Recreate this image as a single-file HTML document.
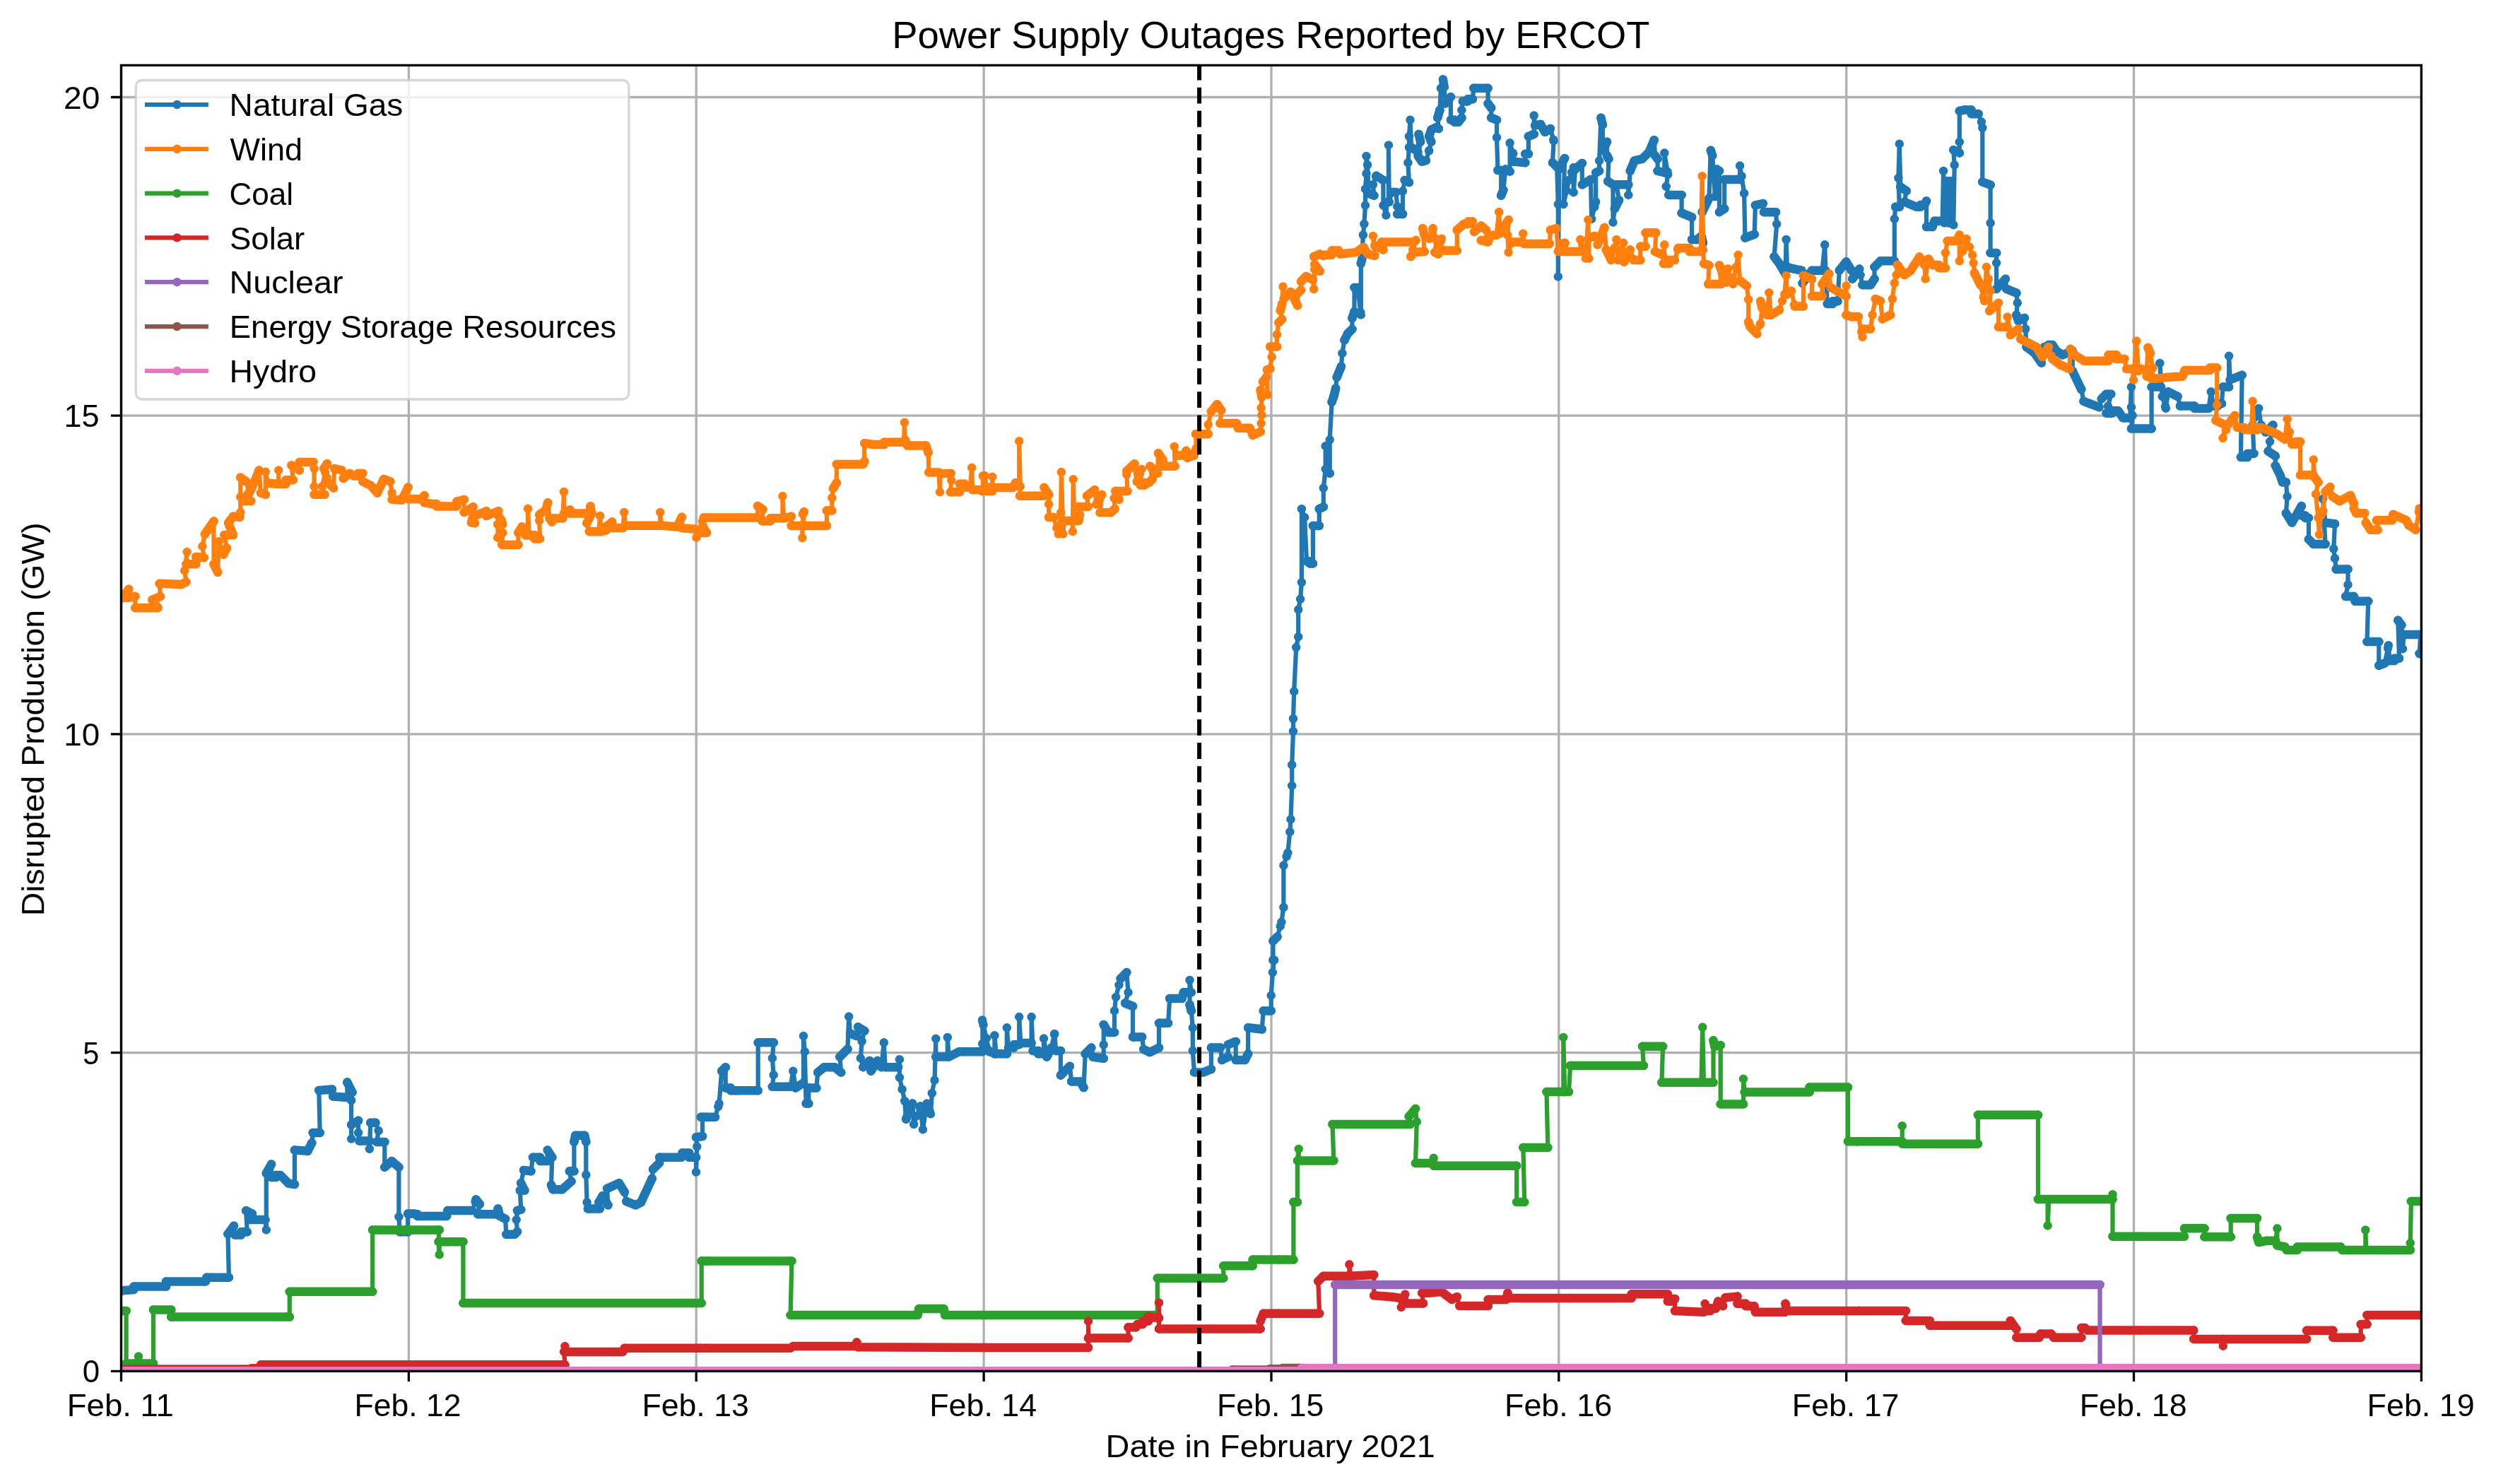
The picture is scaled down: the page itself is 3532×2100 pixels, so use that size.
<!DOCTYPE html>
<html><head><meta charset="utf-8"><style>html,body{margin:0;padding:0;background:#fff;}svg{display:block;}text{-webkit-font-smoothing:antialiased;}</style></head><body>
<svg width="3532" height="2100" viewBox="0 0 3532 2100">
<rect width="3532" height="2100" fill="#ffffff"/>
<defs><clipPath id="ax"><rect x="171.5" y="92.4" width="3254.9" height="1847.8999999999999"/></clipPath></defs>
<path d="M171.5 92.4V1940.3M578.4 92.4V1940.3M985.2 92.4V1940.3M1392.1 92.4V1940.3M1799 92.4V1940.3M2205.8 92.4V1940.3M2612.7 92.4V1940.3M3019.5 92.4V1940.3M3426.4 92.4V1940.3M171.5 1940.3H3426.4M171.5 1489.6H3426.4M171.5 1038.9H3426.4M171.5 588.2H3426.4M171.5 137.5H3426.4" stroke="#b0b0b0" stroke-width="3.33" fill="none"/>
<g clip-path="url(#ax)">
<path d="M173.6 1826.3 L189.3 1824.9 L189.3 1820.6 L235.1 1820.6 L235.1 1813.4 L291 1813.4 L292.4 1807.7 L323.9 1807.7 L322.5 1746.2 L331 1734.7 L332.5 1747.6 L341.1 1747.6 L341.1 1743.3 L349.7 1743.3 L348.2 1713.2 L356.8 1717.5 L354 1726.1 L375.4 1726.1 L376.8 1740.4 L376.8 1660.3 L384 1647.4 L384 1666 L390.4 1666 L390.4 1663.1 L396.9 1663.1 L408.3 1674.6 L416.9 1676 L416.9 1627.4 L435.5 1628.8 L441.3 1617.3 L442.7 1603 L452.7 1603 L451.3 1542.9 L469.9 1541.5 L471.3 1551.5 L491.4 1552.9 L491.4 1531.5 L498.5 1545.8 L497.1 1557.2 L497.1 1611.6 L497.1 1591.6 L507.1 1585.8 L507.1 1603 L508.5 1614.5 L522.9 1614.5 L522.9 1625.9 L524.3 1588.7 L531.4 1588.7 L535.7 1600.2 L532.9 1615.9 L544.3 1615.9 L544.3 1651.7 L554.4 1643.1 L564.4 1651.7 L564.4 1721.8 L565.8 1743.3 L577.2 1743.3 L577.2 1717.5 L585 1717.5 L585 1717.5 L590.6 1718.3 L590.6 1720.9 L632.1 1720.9 L633.4 1713.1 L668.4 1713.1 L673.6 1697.5 L678.8 1704 L676.2 1718.3 L702.1 1718.3 L704.7 1710.5 L707.3 1720.9 L715.1 1724.8 L716.4 1746.8 L728.1 1746.8 L732 1742.9 L730.7 1726.1 L732 1713.1 L737.2 1711.8 L735.9 1684.5 L742.4 1684.5 L737.2 1674.2 L741.1 1656 L751.4 1657.3 L754 1637.8 L764.4 1637.8 L764.4 1643 L774.8 1643 L774.8 1627.5 L781.3 1637.8 L780 1676.8 L782.6 1683.2 L795.6 1683.2 L808.5 1671.6 L805.9 1657.3 L812.4 1657.3 L812.4 1615.8 L814.2 1606.7 L827.2 1606.7 L829.3 1615.8 L829.3 1662.5 L830.6 1701.4 L831.9 1710.5 L848.7 1710.5 L847.4 1701.4 L852.6 1692.3 L860.4 1705.3 L859.1 1682 L876 1674.2 L883.8 1687.1 L886.4 1700.1 L899.3 1705.3 L907.1 1701.4 L922.7 1667.7 L924 1654.7 L933.1 1645.6 L933.1 1637.8 L964.2 1637.8 L965.5 1631.4 L975.2 1631.4 L975.2 1637.8 L985 1637.8 L985 1658.6 L986.3 1622.3 L985 1609.3 L994 1608 L994 1580.8 L1000 1580.8 L991.8 1580.8 L1012 1580.8 L1017.6 1561.6 L1021.2 1515.7 L1026.7 1510.2 L1026.7 1539.6 L1034.1 1539.6 L1034.1 1543.3 L1041.4 1543.3 L1072.7 1543.3 L1072.7 1475.3 L1094.7 1475.3 L1092.9 1497.4 L1094.7 1521.2 L1092.9 1537.8 L1118.6 1537.8 L1122.3 1515.7 L1125.9 1539.6 L1137 1532.3 L1137 1466.1 L1138.8 1488.2 L1140.6 1561.6 L1144.3 1561.6 L1144.3 1539.6 L1155.3 1539.6 L1157.2 1517.6 L1166.3 1510.2 L1181 1510.2 L1190.2 1517.6 L1188.4 1495.5 L1199.4 1484.5 L1201.2 1438.6 L1203.1 1462.5 L1212.3 1466.1 L1214.1 1453.3 L1223.3 1458.8 L1219.6 1473.5 L1217.8 1497.4 L1221.4 1510.2 L1230.6 1501 L1232.5 1515.7 L1241.7 1501 L1247.2 1510.2 L1250.8 1475.3 L1252.7 1510.2 L1271 1510.2 L1272.9 1499.2 L1272.9 1524.9 L1276.6 1541.4 L1280.2 1558 L1282.1 1583.7 L1291.2 1561.6 L1293.1 1591 L1302.3 1565.3 L1305.9 1598.4 L1311.5 1561.6 L1317 1576.3 L1318.8 1547 L1322.5 1528.6 L1324.3 1469.8 L1324.3 1495.5 L1340.8 1495.5 L1340.8 1468 L1342.7 1495.5 L1357.4 1488.2 L1390.4 1488.2 L1390.4 1445.9 L1390.4 1477.1 L1400 1488.2 L1390 1443.5 L1392.2 1482.6 L1407.4 1491.3 L1407.4 1465.2 L1409.6 1491.3 L1424.8 1491.3 L1424.8 1454.3 L1427 1482.6 L1434.6 1482.6 L1434.6 1478.3 L1442.2 1478.3 L1442.2 1439.1 L1444.3 1476.1 L1459.6 1476.1 L1459.6 1439.1 L1461.7 1487 L1469.3 1487 L1469.3 1491.3 L1477 1491.3 L1477 1469.6 L1481.3 1495.7 L1487.8 1482.6 L1492.2 1463 L1494.3 1487 L1500.9 1487 L1500.9 1521.7 L1513.9 1508.7 L1516.1 1530.4 L1529.1 1530.4 L1533.5 1539.1 L1535.7 1491.3 L1544.3 1482.6 L1546.5 1495.7 L1561.7 1497.8 L1561.7 1478.3 L1561.7 1450 L1568.3 1460.9 L1577 1460.9 L1577 1430.4 L1579.1 1410.9 L1585.7 1384.8 L1594.3 1376.1 L1596.5 1404.3 L1592.2 1419.6 L1603 1423.9 L1603 1467.4 L1616.1 1467.4 L1618.3 1484.8 L1627 1489.1 L1640 1482.6 L1640 1447.8 L1653 1447.8 L1655.2 1413 L1672.6 1413 L1674.8 1404.3 L1685.7 1404.3 L1683.5 1387 L1683.5 1421.7 L1685.7 1430.4 L1687.8 1454.3 L1687.8 1487 L1690 1517.4 L1703 1517.4 L1713.9 1513 L1713.9 1482.6 L1727 1482.6 L1729.1 1500 L1737.8 1495.7 L1737.8 1478.3 L1748.7 1473.9 L1748.7 1500 L1761.7 1500 L1766.1 1491.3 L1766.1 1454.3 L1785.7 1456.5 L1787.8 1430.4 L1798.7 1430.4 L1798.7 1408.7 L1800.9 1376.1 L1803 1358.7 L1801.5 1358.7 L1801.5 1331.5 L1807.5 1325.6 L1813.4 1304.8 L1816.4 1284 L1816.4 1224.7 L1822.3 1206.9 L1825.3 1177.2 L1826.5 1159.4 L1828.2 1111.9 L1828.2 1082.3 L1830 1034.8 L1830 1017 L1831.2 978.4 L1834.2 916.1 L1837.2 901.2 L1837.2 862.7 L1840.1 847.8 L1841.9 824.1 L1841.9 720.2 L1846.1 732.1 L1849 794.4 L1853.5 794.4 L1853.5 797.4 L1857.9 797.4 L1857.9 744 L1866.8 744 L1866.8 720.2 L1872.8 717.3 L1872.8 690.6 L1875.7 663.9 L1875.7 631.2 L1878.7 666.8 L1881.7 669.8 L1881.7 622.3 L1884.6 568.9 L1887.6 560 L1887.7 560 L1890.1 549.5 L1891.7 534 L1897.9 518.5 L1899.4 499.9 L1902.5 481.3 L1907.2 472 L1913.4 465.8 L1913.4 450.3 L1916.5 441 L1916.5 406.9 L1921.1 406.9 L1925.8 445.6 L1925.8 372.8 L1927.3 366.6 L1928.9 332.5 L1930.4 317 L1932 290.6 L1932 267.4 L1933.5 245.7 L1933.5 220.9 L1935.1 233.3 L1936.6 273.6 L1944.4 276.7 L1942.8 261.2 L1947.5 248.8 L1957.4 255 L1957.4 290.6 L1961.4 304.6 L1962.4 286 L1964.9 286 L1964.9 205.4 L1965.8 286 L1969.2 272 L1975.4 272 L1977.3 292.2 L1977.3 303 L1985 303 L1985 270.5 L1987.8 255 L1994 258.1 L1992.4 230.2 L1994 208.5 L1994 193 L1995.5 169.7 L1997.1 208.5 L2006.4 214.7 L2007.6 189.9 L2010.1 200.7 L2006.7 220.9 L2012 228.6 L2017.9 227.1 L2022.2 213.1 L2025.3 200.7 L2022.2 193 L2025.3 183.7 L2031.5 180.6 L2035.8 182.1 L2034.3 166.6 L2037.4 155.8 L2038.9 124.8 L2042 112.4 L2043.6 123.2 L2045.1 146.5 L2052.9 137.2 L2052.9 169.7 L2058.3 169.7 L2058.3 172.8 L2063.7 172.8 L2068.4 166.6 L2068.4 155.8 L2069.9 143.4 L2076.9 143.4 L2076.9 140.3 L2083.9 140.3 L2085.4 124.8 L2105.6 124.8 L2105.6 146.5 L2110.2 152.7 L2110.2 166.6 L2118 169.7 L2118 194.5 L2119.5 241 L2124.2 241 L2124.2 276.7 L2127.3 268.9 L2130.4 239.5 L2136.6 242.6 L2136.6 202.3 L2141.2 217.8 L2141.2 228.6 L2158.3 230.2 L2158.3 217.8 L2162.9 217.8 L2162.9 193 L2170.7 189.9 L2170.7 163.5 L2172.2 177.5 L2180 175.9 L2186.2 186.8 L2193.9 182.1 L2198.6 199.2 L2197 230.2 L2203.2 236.4 L2204.8 289.1 L2204.8 391.4 L2206.3 239.5 L2214.1 224 L2212.5 289.1 L2220 255 L2219.9 255 L2226.7 237.1 L2226.7 272.2 L2229.1 239.5 L2238.8 231 L2238.8 261.3 L2251 254 L2252.2 309.9 L2258.2 285.6 L2258.2 244.3 L2263.1 241.9 L2263.1 227.4 L2265.5 166.7 L2267.9 176.4 L2267.9 212.8 L2274 200.7 L2274 220.1 L2276.4 224.9 L2275.2 256.5 L2282.5 261.3 L2282.5 314.7 L2284.9 295.3 L2291 283.2 L2287.4 261.3 L2304.3 261.3 L2304.3 275.9 L2306.8 241.9 L2312.8 227.4 L2323.8 224.9 L2333.5 215.2 L2340.7 198.2 L2342 220.1 L2345.6 224.9 L2345.6 241.9 L2355.3 244.3 L2355.3 216.4 L2360.2 246.8 L2357.7 263.8 L2361.4 275.9 L2379.6 275.9 L2379.6 301.4 L2394.1 307.4 L2394.1 339 L2401.4 339 L2407.5 334.1 L2409.9 343.8 L2408.7 300.2 L2418.4 280.7 L2420.8 212.8 L2423.2 220.1 L2426.9 278.3 L2429.3 239.5 L2433 241.9 L2433 300.2 L2440.2 295.3 L2440.2 254 L2462.1 254 L2462.1 234.6 L2464.5 249.2 L2468.1 273.5 L2469.4 336.6 L2482.7 331.7 L2483.9 290.4 L2494.8 288 L2496 300.2 L2513 300.2 L2514.2 317.1 L2510.6 363.2 L2517.9 373 L2526.4 387.5 L2527.6 339 L2528.8 377.8 L2537.3 380.2 L2549.4 382.7 L2550.6 400.9 L2564 382.7 L2578.5 382.7 L2582.2 346.3 L2583.4 382.7 L2585.8 430 L2593.1 430 L2593.1 426.3 L2600.4 426.3 L2602.8 382.7 L2612.5 370.5 L2620 382.7 L2619.9 382.7 L2621.3 394.7 L2631.2 380.6 L2632.6 389.1 L2635.5 403.2 L2646.8 403.2 L2652.5 394.7 L2652.5 377.8 L2660.9 369.3 L2680.8 369.3 L2680.8 309.8 L2682.2 292.8 L2687.8 292.8 L2686.4 251.8 L2687.8 203.7 L2689.3 264.5 L2697.7 270.2 L2694.9 285.8 L2711.9 292.8 L2717.6 292.8 L2717.6 290 L2723.2 290 L2726 284.4 L2726 321.1 L2734.5 321.1 L2737.4 312.7 L2748.7 312.7 L2750.1 241.9 L2751.5 315.5 L2754.4 256 L2757.2 315.5 L2760 256 L2764.3 318.3 L2765.7 233.4 L2764.3 212.2 L2772.8 216.4 L2772.8 200.9 L2772.8 157 L2779.8 155.6 L2789.7 155.6 L2789.7 161.2 L2799.6 161.2 L2803.9 172.6 L2805.3 181 L2805.3 257.5 L2816.6 261.7 L2816.6 315.5 L2816.6 357.9 L2825.1 357.9 L2825.1 372.1 L2825.1 408.9 L2837.9 394.7 L2839.3 408.9 L2853.4 414.6 L2854.8 428.7 L2853.4 445.7 L2856.2 454.2 L2864.7 449.9 L2866.2 465.5 L2867.6 491 L2878.9 499.5 L2888.8 513.6 L2893 491 L2898.7 491 L2898.7 488.1 L2904.4 488.1 L2910 496.6 L2918.5 502.3 L2932.7 496.6 L2932.7 524.9 L2945.2 551 L2948.5 567.8 L2957 571.2 L2970.4 576.2 L2973.8 564.4 L2980.5 557.7 L2987.3 557.7 L2980.5 584.7 L2989 584.7 L2989 581.3 L2997.4 581.3 L3004.1 591.4 L3014.2 591.4 L3015.9 547.6 L3015.9 576.2 L3017.6 588 L3015.9 606.6 L3044.6 606.6 L3044.6 547.6 L3058 547.6 L3056.3 513.9 L3059.7 561.1 L3064.8 577.9 L3068.1 554.3 L3081.6 561.1 L3085 574.6 L3105.2 574.6 L3105.2 577.9 L3125.4 577.9 L3128.8 554.3 L3132.2 574.6 L3138.1 574.6 L3138.1 571.2 L3143.9 571.2 L3145.6 547.6 L3154.1 547.6 L3154.1 503.8 L3155.7 537.5 L3172.6 530.8 L3170.9 647 L3180.2 647 L3180.2 641.9 L3189.4 641.9 L3187.7 601.5 L3196.2 577.9 L3199.5 601.5 L3206.3 611.6 L3216.4 601.5 L3209.6 638.6 L3219.8 645.3 L3219.8 658.8 L3226.5 672.3 L3229.9 682.4 L3234.9 682.4 L3236.6 702.6 L3234.9 726.2 L3243.3 739.6 L3256.8 716.1 L3256.8 729.5 L3261.9 729.5 L3261.9 732.9 L3266.9 732.9 L3266.9 763.2 L3273.7 770 L3290.5 770 L3287.1 706 L3290.5 739.6 L3304 741.3 L3302.3 776.7 L3304 790.2 L3305.7 805.4 L3322.5 805.4 L3322.5 827.3 L3319.2 844.1 L3330.9 844.1 L3332.6 850.8 L3351.2 850.8 L3349.5 908.1 L3366.3 908.1 L3366.3 941.8 L3374.7 938.4 L3379.8 913.2 L3381.5 935.1 L3388.2 935.1 L3388.2 931.7 L3395 931.7 L3393.3 877.8 L3398.3 884.5 L3400 918.2 L3401.7 898 L3425.3 898 L3423.6 925 L3430 925" fill="none" stroke="#1f77b4" stroke-width="6.25" stroke-linejoin="round"/>
<path d="M173.6 1826.3L189.3 1824.9M189.3 1820.6L235.1 1820.6M235.1 1813.4L291 1813.4M292.4 1807.7L323.9 1807.7M322.5 1746.2L331 1734.7M332.5 1747.6L341.1 1747.6M341.1 1743.3L349.7 1743.3M348.2 1713.2L356.8 1717.5M356.8 1717.5L354 1726.1M354 1726.1L375.4 1726.1M376.8 1660.3L384 1647.4M384 1666L390.4 1666M390.4 1663.1L396.9 1663.1M396.9 1663.1L408.3 1674.6M408.3 1674.6L416.9 1676M416.9 1627.4L435.5 1628.8M435.5 1628.8L441.3 1617.3M442.7 1603L452.7 1603M451.3 1542.9L469.9 1541.5M471.3 1551.5L491.4 1552.9M491.4 1531.5L498.5 1545.8M497.1 1591.6L507.1 1585.8M508.5 1614.5L522.9 1614.5M524.3 1588.7L531.4 1588.7M532.9 1615.9L544.3 1615.9M544.3 1651.7L554.4 1643.1M554.4 1643.1L564.4 1651.7M565.8 1743.3L577.2 1743.3M577.2 1717.5L585 1717.5M585 1717.5L590.6 1718.3M590.6 1720.9L632.1 1720.9M633.4 1713.1L668.4 1713.1M673.6 1697.5L678.8 1704M676.2 1718.3L702.1 1718.3M702.1 1718.3L704.7 1710.5M704.7 1710.5L707.3 1720.9M707.3 1720.9L715.1 1724.8M716.4 1746.8L728.1 1746.8M728.1 1746.8L732 1742.9M732 1713.1L737.2 1711.8M735.9 1684.5L742.4 1684.5M742.4 1684.5L737.2 1674.2M741.1 1656L751.4 1657.3M754 1637.8L764.4 1637.8M764.4 1643L774.8 1643M774.8 1627.5L781.3 1637.8M780 1676.8L782.6 1683.2M782.6 1683.2L795.6 1683.2M795.6 1683.2L808.5 1671.6M805.9 1657.3L812.4 1657.3M812.4 1615.8L814.2 1606.7M814.2 1606.7L827.2 1606.7M827.2 1606.7L829.3 1615.8M831.9 1710.5L848.7 1710.5M847.4 1701.4L852.6 1692.3M852.6 1692.3L860.4 1705.3M859.1 1682L876 1674.2M876 1674.2L883.8 1687.1M886.4 1700.1L899.3 1705.3M899.3 1705.3L907.1 1701.4M907.1 1701.4L922.7 1667.7M924 1654.7L933.1 1645.6M933.1 1637.8L964.2 1637.8M965.5 1631.4L975.2 1631.4M975.2 1637.8L985 1637.8M985 1609.3L994 1608M994 1580.8L1000 1580.8M1000 1580.8L991.8 1580.8M991.8 1580.8L1012 1580.8M1021.2 1515.7L1026.7 1510.2M1026.7 1539.6L1034.1 1539.6M1034.1 1543.3L1041.4 1543.3M1041.4 1543.3L1072.7 1543.3M1072.7 1475.3L1094.7 1475.3M1092.9 1537.8L1118.6 1537.8M1125.9 1539.6L1137 1532.3M1140.6 1561.6L1144.3 1561.6M1144.3 1539.6L1155.3 1539.6M1157.2 1517.6L1166.3 1510.2M1166.3 1510.2L1181 1510.2M1181 1510.2L1190.2 1517.6M1188.4 1495.5L1199.4 1484.5M1203.1 1462.5L1212.3 1466.1M1214.1 1453.3L1223.3 1458.8M1221.4 1510.2L1230.6 1501M1232.5 1515.7L1241.7 1501M1241.7 1501L1247.2 1510.2M1252.7 1510.2L1271 1510.2M1282.1 1583.7L1291.2 1561.6M1324.3 1495.5L1340.8 1495.5M1342.7 1495.5L1357.4 1488.2M1357.4 1488.2L1390.4 1488.2M1390.4 1477.1L1400 1488.2M1392.2 1482.6L1407.4 1491.3M1409.6 1491.3L1424.8 1491.3M1427 1482.6L1434.6 1482.6M1434.6 1478.3L1442.2 1478.3M1444.3 1476.1L1459.6 1476.1M1461.7 1487L1469.3 1487M1469.3 1491.3L1477 1491.3M1481.3 1495.7L1487.8 1482.6M1494.3 1487L1500.9 1487M1500.9 1521.7L1513.9 1508.7M1516.1 1530.4L1529.1 1530.4M1529.1 1530.4L1533.5 1539.1M1535.7 1491.3L1544.3 1482.6M1546.5 1495.7L1561.7 1497.8M1561.7 1450L1568.3 1460.9M1568.3 1460.9L1577 1460.9M1585.7 1384.8L1594.3 1376.1M1592.2 1419.6L1603 1423.9M1603 1467.4L1616.1 1467.4M1618.3 1484.8L1627 1489.1M1627 1489.1L1640 1482.6M1640 1447.8L1653 1447.8M1655.2 1413L1672.6 1413M1672.6 1413L1674.8 1404.3M1674.8 1404.3L1685.7 1404.3M1683.5 1421.7L1685.7 1430.4M1690 1517.4L1703 1517.4M1703 1517.4L1713.9 1513M1713.9 1482.6L1727 1482.6M1729.1 1500L1737.8 1495.7M1737.8 1478.3L1748.7 1473.9M1748.7 1500L1761.7 1500M1761.7 1500L1766.1 1491.3M1766.1 1454.3L1785.7 1456.5M1787.8 1430.4L1798.7 1430.4M1803 1358.7L1801.5 1358.7M1801.5 1331.5L1807.5 1325.6M1849 794.4L1853.5 794.4M1853.5 797.4L1857.9 797.4M1857.9 744L1866.8 744M1866.8 720.2L1872.8 717.3M1878.7 666.8L1881.7 669.8M1884.6 568.9L1887.6 560M1887.7 560L1890.1 549.5M1891.7 534L1897.9 518.5M1902.5 481.3L1907.2 472M1907.2 472L1913.4 465.8M1913.4 450.3L1916.5 441M1916.5 406.9L1921.1 406.9M1925.8 372.8L1927.3 366.6M1936.6 273.6L1944.4 276.7M1947.5 248.8L1957.4 255M1962.4 286L1964.9 286M1969.2 272L1975.4 272M1977.3 303L1985 303M1987.8 255L1994 258.1M1997.1 208.5L2006.4 214.7M2007.6 189.9L2010.1 200.7M2006.7 220.9L2012 228.6M2012 228.6L2017.9 227.1M2025.3 200.7L2022.2 193M2022.2 193L2025.3 183.7M2025.3 183.7L2031.5 180.6M2031.5 180.6L2035.8 182.1M2034.3 166.6L2037.4 155.8M2042 112.4L2043.6 123.2M2045.1 146.5L2052.9 137.2M2052.9 169.7L2058.3 169.7M2058.3 172.8L2063.7 172.8M2063.7 172.8L2068.4 166.6M2069.9 143.4L2076.9 143.4M2076.9 140.3L2083.9 140.3M2085.4 124.8L2105.6 124.8M2105.6 146.5L2110.2 152.7M2110.2 166.6L2118 169.7M2119.5 241L2124.2 241M2124.2 276.7L2127.3 268.9M2130.4 239.5L2136.6 242.6M2141.2 228.6L2158.3 230.2M2158.3 217.8L2162.9 217.8M2162.9 193L2170.7 189.9M2172.2 177.5L2180 175.9M2180 175.9L2186.2 186.8M2186.2 186.8L2193.9 182.1M2197 230.2L2203.2 236.4M2206.3 239.5L2214.1 224M2229.1 239.5L2238.8 231M2238.8 261.3L2251 254M2258.2 244.3L2263.1 241.9M2265.5 166.7L2267.9 176.4M2267.9 212.8L2274 200.7M2274 220.1L2276.4 224.9M2275.2 256.5L2282.5 261.3M2284.9 295.3L2291 283.2M2287.4 261.3L2304.3 261.3M2306.8 241.9L2312.8 227.4M2312.8 227.4L2323.8 224.9M2323.8 224.9L2333.5 215.2M2333.5 215.2L2340.7 198.2M2342 220.1L2345.6 224.9M2345.6 241.9L2355.3 244.3M2361.4 275.9L2379.6 275.9M2379.6 301.4L2394.1 307.4M2394.1 339L2401.4 339M2401.4 339L2407.5 334.1M2407.5 334.1L2409.9 343.8M2408.7 300.2L2418.4 280.7M2420.8 212.8L2423.2 220.1M2429.3 239.5L2433 241.9M2433 300.2L2440.2 295.3M2440.2 254L2462.1 254M2469.4 336.6L2482.7 331.7M2483.9 290.4L2494.8 288M2496 300.2L2513 300.2M2510.6 363.2L2517.9 373M2517.9 373L2526.4 387.5M2528.8 377.8L2537.3 380.2M2537.3 380.2L2549.4 382.7M2550.6 400.9L2564 382.7M2564 382.7L2578.5 382.7M2585.8 430L2593.1 430M2593.1 426.3L2600.4 426.3M2602.8 382.7L2612.5 370.5M2612.5 370.5L2620 382.7M2621.3 394.7L2631.2 380.6M2635.5 403.2L2646.8 403.2M2646.8 403.2L2652.5 394.7M2652.5 377.8L2660.9 369.3M2660.9 369.3L2680.8 369.3M2682.2 292.8L2687.8 292.8M2689.3 264.5L2697.7 270.2M2694.9 285.8L2711.9 292.8M2711.9 292.8L2717.6 292.8M2717.6 290L2723.2 290M2723.2 290L2726 284.4M2726 321.1L2734.5 321.1M2734.5 321.1L2737.4 312.7M2737.4 312.7L2748.7 312.7M2764.3 212.2L2772.8 216.4M2772.8 157L2779.8 155.6M2779.8 155.6L2789.7 155.6M2789.7 161.2L2799.6 161.2M2805.3 257.5L2816.6 261.7M2816.6 357.9L2825.1 357.9M2825.1 408.9L2837.9 394.7M2839.3 408.9L2853.4 414.6M2853.4 445.7L2856.2 454.2M2856.2 454.2L2864.7 449.9M2867.6 491L2878.9 499.5M2878.9 499.5L2888.8 513.6M2893 491L2898.7 491M2898.7 488.1L2904.4 488.1M2904.4 488.1L2910 496.6M2910 496.6L2918.5 502.3M2918.5 502.3L2932.7 496.6M2932.7 524.9L2945.2 551M2948.5 567.8L2957 571.2M2957 571.2L2970.4 576.2M2973.8 564.4L2980.5 557.7M2980.5 557.7L2987.3 557.7M2980.5 584.7L2989 584.7M2989 581.3L2997.4 581.3M2997.4 581.3L3004.1 591.4M3004.1 591.4L3014.2 591.4M3015.9 606.6L3044.6 606.6M3044.6 547.6L3058 547.6M3068.1 554.3L3081.6 561.1M3085 574.6L3105.2 574.6M3105.2 577.9L3125.4 577.9M3132.2 574.6L3138.1 574.6M3138.1 571.2L3143.9 571.2M3145.6 547.6L3154.1 547.6M3155.7 537.5L3172.6 530.8M3170.9 647L3180.2 647M3180.2 641.9L3189.4 641.9M3199.5 601.5L3206.3 611.6M3206.3 611.6L3216.4 601.5M3209.6 638.6L3219.8 645.3M3219.8 658.8L3226.5 672.3M3226.5 672.3L3229.9 682.4M3229.9 682.4L3234.9 682.4M3234.9 726.2L3243.3 739.6M3243.3 739.6L3256.8 716.1M3256.8 729.5L3261.9 729.5M3261.9 732.9L3266.9 732.9M3266.9 763.2L3273.7 770M3273.7 770L3290.5 770M3290.5 739.6L3304 741.3M3305.7 805.4L3322.5 805.4M3319.2 844.1L3330.9 844.1M3330.9 844.1L3332.6 850.8M3332.6 850.8L3351.2 850.8M3349.5 908.1L3366.3 908.1M3366.3 941.8L3374.7 938.4M3381.5 935.1L3388.2 935.1M3388.2 931.7L3395 931.7M3393.3 877.8L3398.3 884.5M3401.7 898L3425.3 898M3423.6 925L3430 925" fill="none" stroke="#1f77b4" stroke-width="12.5" stroke-linecap="round" stroke-linejoin="round"/>
<path d="M173.6 1826.3h0M189.3 1824.9h0M189.3 1820.6h0M235.1 1820.6h0M235.1 1813.4h0M291 1813.4h0M292.4 1807.7h0M323.9 1807.7h0M322.5 1746.2h0M331 1734.7h0M332.5 1747.6h0M341.1 1747.6h0M341.1 1743.3h0M349.7 1743.3h0M348.2 1713.2h0M356.8 1717.5h0M354 1726.1h0M375.4 1726.1h0M376.8 1740.4h0M376.8 1660.3h0M384 1647.4h0M384 1666h0M390.4 1666h0M390.4 1663.1h0M396.9 1663.1h0M408.3 1674.6h0M416.9 1676h0M416.9 1627.4h0M435.5 1628.8h0M441.3 1617.3h0M442.7 1603h0M452.7 1603h0M451.3 1542.9h0M469.9 1541.5h0M471.3 1551.5h0M491.4 1552.9h0M491.4 1531.5h0M498.5 1545.8h0M497.1 1557.2h0M497.1 1611.6h0M497.1 1591.6h0M507.1 1585.8h0M507.1 1603h0M508.5 1614.5h0M522.9 1614.5h0M522.9 1625.9h0M524.3 1588.7h0M531.4 1588.7h0M535.7 1600.2h0M532.9 1615.9h0M544.3 1615.9h0M544.3 1651.7h0M554.4 1643.1h0M564.4 1651.7h0M564.4 1721.8h0M565.8 1743.3h0M577.2 1743.3h0M577.2 1717.5h0M585 1717.5h0M585 1717.5h0M590.6 1718.3h0M590.6 1720.9h0M632.1 1720.9h0M633.4 1713.1h0M668.4 1713.1h0M673.6 1697.5h0M678.8 1704h0M676.2 1718.3h0M702.1 1718.3h0M704.7 1710.5h0M707.3 1720.9h0M715.1 1724.8h0M716.4 1746.8h0M728.1 1746.8h0M732 1742.9h0M730.7 1726.1h0M732 1713.1h0M737.2 1711.8h0M735.9 1684.5h0M742.4 1684.5h0M737.2 1674.2h0M741.1 1656h0M751.4 1657.3h0M754 1637.8h0M764.4 1637.8h0M764.4 1643h0M774.8 1643h0M774.8 1627.5h0M781.3 1637.8h0M780 1676.8h0M782.6 1683.2h0M795.6 1683.2h0M808.5 1671.6h0M805.9 1657.3h0M812.4 1657.3h0M812.4 1615.8h0M814.2 1606.7h0M827.2 1606.7h0M829.3 1615.8h0M829.3 1662.5h0M830.6 1701.4h0M831.9 1710.5h0M848.7 1710.5h0M847.4 1701.4h0M852.6 1692.3h0M860.4 1705.3h0M859.1 1682h0M876 1674.2h0M883.8 1687.1h0M886.4 1700.1h0M899.3 1705.3h0M907.1 1701.4h0M922.7 1667.7h0M924 1654.7h0M933.1 1645.6h0M933.1 1637.8h0M964.2 1637.8h0M965.5 1631.4h0M975.2 1631.4h0M975.2 1637.8h0M985 1637.8h0M985 1658.6h0M986.3 1622.3h0M985 1609.3h0M994 1608h0M994 1580.8h0M1000 1580.8h0M991.8 1580.8h0M1012 1580.8h0M1017.6 1561.6h0M1021.2 1515.7h0M1026.7 1510.2h0M1026.7 1539.6h0M1034.1 1539.6h0M1034.1 1543.3h0M1041.4 1543.3h0M1072.7 1543.3h0M1072.7 1475.3h0M1094.7 1475.3h0M1092.9 1497.4h0M1094.7 1521.2h0M1092.9 1537.8h0M1118.6 1537.8h0M1122.3 1515.7h0M1125.9 1539.6h0M1137 1532.3h0M1137 1466.1h0M1138.8 1488.2h0M1140.6 1561.6h0M1144.3 1561.6h0M1144.3 1539.6h0M1155.3 1539.6h0M1157.2 1517.6h0M1166.3 1510.2h0M1181 1510.2h0M1190.2 1517.6h0M1188.4 1495.5h0M1199.4 1484.5h0M1201.2 1438.6h0M1203.1 1462.5h0M1212.3 1466.1h0M1214.1 1453.3h0M1223.3 1458.8h0M1219.6 1473.5h0M1217.8 1497.4h0M1221.4 1510.2h0M1230.6 1501h0M1232.5 1515.7h0M1241.7 1501h0M1247.2 1510.2h0M1250.8 1475.3h0M1252.7 1510.2h0M1271 1510.2h0M1272.9 1499.2h0M1272.9 1524.9h0M1276.6 1541.4h0M1280.2 1558h0M1282.1 1583.7h0M1291.2 1561.6h0M1293.1 1591h0M1302.3 1565.3h0M1305.9 1598.4h0M1311.5 1561.6h0M1317 1576.3h0M1318.8 1547h0M1322.5 1528.6h0M1324.3 1469.8h0M1324.3 1495.5h0M1340.8 1495.5h0M1340.8 1468h0M1342.7 1495.5h0M1357.4 1488.2h0M1390.4 1488.2h0M1390.4 1445.9h0M1390.4 1477.1h0M1400 1488.2h0M1390 1443.5h0M1392.2 1482.6h0M1407.4 1491.3h0M1407.4 1465.2h0M1409.6 1491.3h0M1424.8 1491.3h0M1424.8 1454.3h0M1427 1482.6h0M1434.6 1482.6h0M1434.6 1478.3h0M1442.2 1478.3h0M1442.2 1439.1h0M1444.3 1476.1h0M1459.6 1476.1h0M1459.6 1439.1h0M1461.7 1487h0M1469.3 1487h0M1469.3 1491.3h0M1477 1491.3h0M1477 1469.6h0M1481.3 1495.7h0M1487.8 1482.6h0M1492.2 1463h0M1494.3 1487h0M1500.9 1487h0M1500.9 1521.7h0M1513.9 1508.7h0M1516.1 1530.4h0M1529.1 1530.4h0M1533.5 1539.1h0M1535.7 1491.3h0M1544.3 1482.6h0M1546.5 1495.7h0M1561.7 1497.8h0M1561.7 1478.3h0M1561.7 1450h0M1568.3 1460.9h0M1577 1460.9h0M1577 1430.4h0M1579.1 1410.9h0M1585.7 1384.8h0M1594.3 1376.1h0M1596.5 1404.3h0M1592.2 1419.6h0M1603 1423.9h0M1603 1467.4h0M1616.1 1467.4h0M1618.3 1484.8h0M1627 1489.1h0M1640 1482.6h0M1640 1447.8h0M1653 1447.8h0M1655.2 1413h0M1672.6 1413h0M1674.8 1404.3h0M1685.7 1404.3h0M1683.5 1387h0M1683.5 1421.7h0M1685.7 1430.4h0M1687.8 1454.3h0M1687.8 1487h0M1690 1517.4h0M1703 1517.4h0M1713.9 1513h0M1713.9 1482.6h0M1727 1482.6h0M1729.1 1500h0M1737.8 1495.7h0M1737.8 1478.3h0M1748.7 1473.9h0M1748.7 1500h0M1761.7 1500h0M1766.1 1491.3h0M1766.1 1454.3h0M1785.7 1456.5h0M1787.8 1430.4h0M1798.7 1430.4h0M1798.7 1408.7h0M1800.9 1376.1h0M1803 1358.7h0M1801.5 1358.7h0M1801.5 1331.5h0M1807.5 1325.6h0M1813.4 1304.8h0M1816.4 1284h0M1816.4 1224.7h0M1822.3 1206.9h0M1825.3 1177.2h0M1826.5 1159.4h0M1828.2 1111.9h0M1828.2 1082.3h0M1830 1034.8h0M1830 1017h0M1831.2 978.4h0M1834.2 916.1h0M1837.2 901.2h0M1837.2 862.7h0M1840.1 847.8h0M1841.9 824.1h0M1841.9 720.2h0M1846.1 732.1h0M1849 794.4h0M1853.5 794.4h0M1853.5 797.4h0M1857.9 797.4h0M1857.9 744h0M1866.8 744h0M1866.8 720.2h0M1872.8 717.3h0M1872.8 690.6h0M1875.7 663.9h0M1875.7 631.2h0M1878.7 666.8h0M1881.7 669.8h0M1881.7 622.3h0M1884.6 568.9h0M1887.6 560h0M1887.7 560h0M1890.1 549.5h0M1891.7 534h0M1897.9 518.5h0M1899.4 499.9h0M1902.5 481.3h0M1907.2 472h0M1913.4 465.8h0M1913.4 450.3h0M1916.5 441h0M1916.5 406.9h0M1921.1 406.9h0M1925.8 445.6h0M1925.8 372.8h0M1927.3 366.6h0M1928.9 332.5h0M1930.4 317h0M1932 290.6h0M1932 267.4h0M1933.5 245.7h0M1933.5 220.9h0M1935.1 233.3h0M1936.6 273.6h0M1944.4 276.7h0M1942.8 261.2h0M1947.5 248.8h0M1957.4 255h0M1957.4 290.6h0M1961.4 304.6h0M1962.4 286h0M1964.9 286h0M1964.9 205.4h0M1965.8 286h0M1969.2 272h0M1975.4 272h0M1977.3 292.2h0M1977.3 303h0M1985 303h0M1985 270.5h0M1987.8 255h0M1994 258.1h0M1992.4 230.2h0M1994 208.5h0M1994 193h0M1995.5 169.7h0M1997.1 208.5h0M2006.4 214.7h0M2007.6 189.9h0M2010.1 200.7h0M2006.7 220.9h0M2012 228.6h0M2017.9 227.1h0M2022.2 213.1h0M2025.3 200.7h0M2022.2 193h0M2025.3 183.7h0M2031.5 180.6h0M2035.8 182.1h0M2034.3 166.6h0M2037.4 155.8h0M2038.9 124.8h0M2042 112.4h0M2043.6 123.2h0M2045.1 146.5h0M2052.9 137.2h0M2052.9 169.7h0M2058.3 169.7h0M2058.3 172.8h0M2063.7 172.8h0M2068.4 166.6h0M2068.4 155.8h0M2069.9 143.4h0M2076.9 143.4h0M2076.9 140.3h0M2083.9 140.3h0M2085.4 124.8h0M2105.6 124.8h0M2105.6 146.5h0M2110.2 152.7h0M2110.2 166.6h0M2118 169.7h0M2118 194.5h0M2119.5 241h0M2124.2 241h0M2124.2 276.7h0M2127.3 268.9h0M2130.4 239.5h0M2136.6 242.6h0M2136.6 202.3h0M2141.2 217.8h0M2141.2 228.6h0M2158.3 230.2h0M2158.3 217.8h0M2162.9 217.8h0M2162.9 193h0M2170.7 189.9h0M2170.7 163.5h0M2172.2 177.5h0M2180 175.9h0M2186.2 186.8h0M2193.9 182.1h0M2198.6 199.2h0M2197 230.2h0M2203.2 236.4h0M2204.8 289.1h0M2204.8 391.4h0M2206.3 239.5h0M2214.1 224h0M2212.5 289.1h0M2220 255h0M2219.9 255h0M2226.7 237.1h0M2226.7 272.2h0M2229.1 239.5h0M2238.8 231h0M2238.8 261.3h0M2251 254h0M2252.2 309.9h0M2258.2 285.6h0M2258.2 244.3h0M2263.1 241.9h0M2263.1 227.4h0M2265.5 166.7h0M2267.9 176.4h0M2267.9 212.8h0M2274 200.7h0M2274 220.1h0M2276.4 224.9h0M2275.2 256.5h0M2282.5 261.3h0M2282.5 314.7h0M2284.9 295.3h0M2291 283.2h0M2287.4 261.3h0M2304.3 261.3h0M2304.3 275.9h0M2306.8 241.9h0M2312.8 227.4h0M2323.8 224.9h0M2333.5 215.2h0M2340.7 198.2h0M2342 220.1h0M2345.6 224.9h0M2345.6 241.9h0M2355.3 244.3h0M2355.3 216.4h0M2360.2 246.8h0M2357.7 263.8h0M2361.4 275.9h0M2379.6 275.9h0M2379.6 301.4h0M2394.1 307.4h0M2394.1 339h0M2401.4 339h0M2407.5 334.1h0M2409.9 343.8h0M2408.7 300.2h0M2418.4 280.7h0M2420.8 212.8h0M2423.2 220.1h0M2426.9 278.3h0M2429.3 239.5h0M2433 241.9h0M2433 300.2h0M2440.2 295.3h0M2440.2 254h0M2462.1 254h0M2462.1 234.6h0M2464.5 249.2h0M2468.1 273.5h0M2469.4 336.6h0M2482.7 331.7h0M2483.9 290.4h0M2494.8 288h0M2496 300.2h0M2513 300.2h0M2514.2 317.1h0M2510.6 363.2h0M2517.9 373h0M2526.4 387.5h0M2527.6 339h0M2528.8 377.8h0M2537.3 380.2h0M2549.4 382.7h0M2550.6 400.9h0M2564 382.7h0M2578.5 382.7h0M2582.2 346.3h0M2583.4 382.7h0M2585.8 430h0M2593.1 430h0M2593.1 426.3h0M2600.4 426.3h0M2602.8 382.7h0M2612.5 370.5h0M2620 382.7h0M2619.9 382.7h0M2621.3 394.7h0M2631.2 380.6h0M2632.6 389.1h0M2635.5 403.2h0M2646.8 403.2h0M2652.5 394.7h0M2652.5 377.8h0M2660.9 369.3h0M2680.8 369.3h0M2680.8 309.8h0M2682.2 292.8h0M2687.8 292.8h0M2686.4 251.8h0M2687.8 203.7h0M2689.3 264.5h0M2697.7 270.2h0M2694.9 285.8h0M2711.9 292.8h0M2717.6 292.8h0M2717.6 290h0M2723.2 290h0M2726 284.4h0M2726 321.1h0M2734.5 321.1h0M2737.4 312.7h0M2748.7 312.7h0M2750.1 241.9h0M2751.5 315.5h0M2754.4 256h0M2757.2 315.5h0M2760 256h0M2764.3 318.3h0M2765.7 233.4h0M2764.3 212.2h0M2772.8 216.4h0M2772.8 200.9h0M2772.8 157h0M2779.8 155.6h0M2789.7 155.6h0M2789.7 161.2h0M2799.6 161.2h0M2803.9 172.6h0M2805.3 181h0M2805.3 257.5h0M2816.6 261.7h0M2816.6 315.5h0M2816.6 357.9h0M2825.1 357.9h0M2825.1 372.1h0M2825.1 408.9h0M2837.9 394.7h0M2839.3 408.9h0M2853.4 414.6h0M2854.8 428.7h0M2853.4 445.7h0M2856.2 454.2h0M2864.7 449.9h0M2866.2 465.5h0M2867.6 491h0M2878.9 499.5h0M2888.8 513.6h0M2893 491h0M2898.7 491h0M2898.7 488.1h0M2904.4 488.1h0M2910 496.6h0M2918.5 502.3h0M2932.7 496.6h0M2932.7 524.9h0M2945.2 551h0M2948.5 567.8h0M2957 571.2h0M2970.4 576.2h0M2973.8 564.4h0M2980.5 557.7h0M2987.3 557.7h0M2980.5 584.7h0M2989 584.7h0M2989 581.3h0M2997.4 581.3h0M3004.1 591.4h0M3014.2 591.4h0M3015.9 547.6h0M3015.9 576.2h0M3017.6 588h0M3015.9 606.6h0M3044.6 606.6h0M3044.6 547.6h0M3058 547.6h0M3056.3 513.9h0M3059.7 561.1h0M3064.8 577.9h0M3068.1 554.3h0M3081.6 561.1h0M3085 574.6h0M3105.2 574.6h0M3105.2 577.9h0M3125.4 577.9h0M3128.8 554.3h0M3132.2 574.6h0M3138.1 574.6h0M3138.1 571.2h0M3143.9 571.2h0M3145.6 547.6h0M3154.1 547.6h0M3154.1 503.8h0M3155.7 537.5h0M3172.6 530.8h0M3170.9 647h0M3180.2 647h0M3180.2 641.9h0M3189.4 641.9h0M3187.7 601.5h0M3196.2 577.9h0M3199.5 601.5h0M3206.3 611.6h0M3216.4 601.5h0M3209.6 638.6h0M3219.8 645.3h0M3219.8 658.8h0M3226.5 672.3h0M3229.9 682.4h0M3234.9 682.4h0M3236.6 702.6h0M3234.9 726.2h0M3243.3 739.6h0M3256.8 716.1h0M3256.8 729.5h0M3261.9 729.5h0M3261.9 732.9h0M3266.9 732.9h0M3266.9 763.2h0M3273.7 770h0M3290.5 770h0M3287.1 706h0M3290.5 739.6h0M3304 741.3h0M3302.3 776.7h0M3304 790.2h0M3305.7 805.4h0M3322.5 805.4h0M3322.5 827.3h0M3319.2 844.1h0M3330.9 844.1h0M3332.6 850.8h0M3351.2 850.8h0M3349.5 908.1h0M3366.3 908.1h0M3366.3 941.8h0M3374.7 938.4h0M3379.8 913.2h0M3381.5 935.1h0M3388.2 935.1h0M3388.2 931.7h0M3395 931.7h0M3393.3 877.8h0M3398.3 884.5h0M3400 918.2h0M3401.7 898h0M3425.3 898h0M3423.6 925h0M3430 925h0M535.6 1600h0M672.6 1700.4h0M1016.3 1566.1h0M1297.3 1579.2h0M1301.6 1567.3h0M1310.2 1570.1h0M1315.7 1573h0M1395.8 1469.2h0M1391.5 1450.2h0M1481.2 1495h0M1492.1 1463.5h0M1583.4 1393.9h0M1592.3 1419.2h0M1811.7 1310.7h0M1820.6 1212h0M1925.4 442.2h0M1947.1 249.9h0M2022.1 213.5h0M2140.8 216.4h0M2198.2 197.7h0M2216.8 269.7h0M2224.1 243.8h0M2256.4 292.9h0M2359.5 242.9h0M2764.3 318.2h0M2803.9 172.5h0M2893 491h0M2983 574.7h0M3064 575.2h0M3192 589.6h0M3212.1 624.8h0M3379 917.2h0" fill="none" stroke="#1f77b4" stroke-width="12.5" stroke-linecap="round"/>
<path d="M173 846.4 L182.2 833.8 L180 846 L191.4 844 L191.4 860.2 L223.4 860.2 L215.4 848.7 L226.9 844 L225.7 825.8 L256.7 827 L263.5 823.5 L261.2 807.5 L264.7 781.1 L263.5 798.3 L277.3 798.3 L277.3 788 L288.7 789.1 L286.4 773.1 L289.9 755.9 L302.5 737.6 L302.5 798.3 L308.2 809.8 L309.4 766.2 L316.2 784.6 L320.8 775.4 L317.4 757.1 L330 757.1 L323.1 739.9 L330 730.7 L339.2 731.9 L340.3 725 L340.3 703.2 L340.3 675.7 L348.3 681.4 L355.2 709 L343.7 709 L355.2 692.9 L362.1 676.9 L366.6 665.4 L368.9 697.5 L375.8 699.8 L375.8 667.7 L379.3 683.7 L394.2 684.9 L394.2 665.4 L394.2 684.9 L404.5 684.9 L404.5 679.2 L414.8 679.2 L412.5 658.5 L423.9 665.4 L423.9 654 L443.4 654 L444.6 663.1 L444.6 688.3 L444.6 699.8 L459.4 699.8 L456 688.3 L462.9 656.2 L458.3 663.1 L465.2 683.7 L472 690.6 L473.2 663.1 L483.5 665.4 L485.8 676.9 L495 670 L500.7 673.4 L507 673.4 L507 670 L513.3 670 L513.3 681.4 L524.8 687.2 L533.9 697.5 L543.1 678 L552.3 681.4 L554.6 697.5 L554.6 706.7 L568.3 707.8 L577.5 689.5 L577.5 706.2 L577.5 706.2 L597.1 706.2 L600.5 701.1 L600.5 711.3 L610.8 713 L617.6 713 L617.6 716.4 L624.4 716.4 L646.5 716.4 L646.5 709.6 L656.7 707.1 L656.7 725 L669.5 717.3 L669.5 730 L667 739.4 L672 740.3 L672 730 L688.2 723.2 L688.2 730 L705.3 723.2 L705.3 730 L709.5 736 L711.2 742 L704.4 742 L704.4 760.7 L711.2 753.9 L710.4 770.9 L733.4 770.9 L733.4 753.9 L738.5 745.4 L743.6 757.3 L747 757.3 L747 719.8 L748.7 757.3 L756.4 757.3 L756.4 762.4 L764 762.4 L763.2 736.9 L763.2 728.4 L772.5 721.5 L775.1 711.3 L777.6 733.5 L781 738.6 L781 733.5 L796.4 733.5 L798 696 L798 726.6 L806.6 721.5 L806.6 726.6 L833.8 726.6 L835.5 716.4 L837.2 726.6 L830.4 740.3 L833.8 752.2 L847.4 752.2 L849.1 730 L850.8 752.2 L857.6 750.5 L857.6 745.4 L866.2 738.6 L866.2 747.1 L881.5 747.1 L883.2 725 L884.9 743.7 L934.3 743.7 L934.3 725 L936 743.7 L958.1 745.4 L964.9 731.8 L964.9 747.1 L983.7 748.8 L985.4 760.7 L995.6 733.5 L997.3 750.5 L1000 753.9 L990 753.9 L994.9 753.9 L995.7 745.6 L995.7 732.5 L1072.1 732.5 L1072.1 716 L1079.5 721 L1078.7 737.4 L1090.2 737.4 L1090.2 733.3 L1107.4 733.3 L1107.4 702.1 L1109.1 733.3 L1119.8 730.8 L1119.8 744 L1135.4 744 L1135.4 761.2 L1136.2 727.5 L1137.8 724.3 L1137 744 L1169.9 744 L1169.9 722.6 L1177.3 722.6 L1177.3 704.5 L1178.9 691.4 L1183.8 683.2 L1183.8 656.9 L1221.6 656.9 L1223.2 652.8 L1223.2 627.3 L1236.4 629 L1251.2 629 L1251.2 625.7 L1266 625.7 L1279.1 625.7 L1279.9 597.8 L1280.7 622.4 L1284 630.6 L1310.3 630.6 L1313.6 640.5 L1314.4 668.4 L1328.4 668.4 L1330 696.3 L1330.8 670.1 L1345.6 670.1 L1346.4 679.9 L1344.8 696.3 L1357.9 696.3 L1357.9 684.8 L1365.3 684.8 L1365.3 689.8 L1372.7 689.8 L1375.2 661.8 L1376 693 L1390.8 693 L1390.8 673.3 L1392.4 691.4 L1400 689.8 L1390 695 L1393.4 673.1 L1396.7 695 L1404.3 695 L1404.3 674.8 L1405.1 689.9 L1433.7 689.9 L1437.1 683.2 L1442.2 688.3 L1442.2 624.3 L1443.8 688.3 L1443 701.7 L1477.5 701.7 L1477.5 689.9 L1484.2 700 L1484.2 713.5 L1484.2 732 L1491 732 L1497.7 755.6 L1501.1 725.3 L1501.9 668.1 L1504.4 755.6 L1506.1 737.1 L1517.9 737.1 L1517.9 752.2 L1518.7 678.2 L1520.4 737.1 L1526.3 737.1 L1528 728.6 L1526.3 716.9 L1539.8 716.9 L1538.1 701.7 L1549 693.3 L1551.5 713.5 L1559.1 700 L1556.6 725.3 L1571.7 725.3 L1577.6 720.2 L1576.8 705.1 L1583.5 706.8 L1578.5 695 L1595.3 695 L1594.4 671.4 L1594.4 666.4 L1605.4 656.3 L1608.7 681.5 L1615.5 663.9 L1613.8 686.6 L1619.7 686.6 L1619.7 683.2 L1625.6 683.2 L1630.6 678.2 L1627.3 659.7 L1638.2 669.8 L1639 641.2 L1645.8 651.2 L1644.1 659.7 L1662.6 659.7 L1661.7 631.9 L1666 644.5 L1676.1 644.5 L1678.6 637.8 L1680.3 647.9 L1689.5 644.5 L1692.9 634.4 L1692 614.2 L1709.7 614.2 L1709.7 600.8 L1713.9 582.3 L1722.3 572.2 L1728.2 580.6 L1726.5 599.1 L1750.1 599.1 L1751.8 605.8 L1768.6 605.8 L1772.8 615.9 L1783.7 610.9 L1784.6 599.1 L1785.4 587.3 L1784.6 577.2 L1785.4 562.1 L1783.7 552 L1787.1 540.2 L1792.2 533.5 L1793.8 558.7 L1793 523.4 L1797.2 521.7 L1797.3 521.7 L1799.7 505.1 L1797.3 490.5 L1807 490.5 L1807 473.5 L1809.4 456.6 L1814.3 451.7 L1811.8 439.6 L1814.3 429.9 L1815.5 405.6 L1816.7 422.6 L1826.4 412.9 L1836.1 432.3 L1836.1 415.3 L1841 410.4 L1841 398.3 L1848.2 391 L1857.9 395.9 L1859.2 409.2 L1860.4 381.3 L1867.7 383.8 L1860.4 374 L1859.2 363.1 L1867.7 359.5 L1872.5 361.9 L1874.9 360.7 L1884.6 360.7 L1884.6 354.6 L1894.3 354.6 L1896.8 359.5 L1918.6 357.1 L1929.5 349.8 L1935.6 359.5 L1945.3 361.9 L1942.9 334 L1945.3 347.4 L1957.4 353.4 L1955 342.5 L2001.1 342.5 L2003.5 340.1 L1996.3 363.1 L2001.1 357.1 L2015.7 355.9 L2013.2 323.1 L2015.7 332.8 L2023 337.7 L2027.8 323.1 L2032.7 340.1 L2030.2 357.1 L2035.1 359.5 L2039.9 337.7 L2039.9 354.6 L2061.8 354.6 L2061.8 325.5 L2071.5 317 L2077.6 317 L2077.6 313.4 L2083.6 313.4 L2086 327.9 L2095.8 319.5 L2103 325.5 L2105.5 342.5 L2095.8 340.1 L2106.7 340.1 L2106.7 332.8 L2117.6 332.8 L2121.2 300 L2122.4 330.4 L2134.6 311 L2133.4 332.8 L2134.6 357.1 L2139.4 342.5 L2154 342.5 L2155.2 330.4 L2156.4 344.9 L2192.8 344.9 L2194 325.5 L2202.5 323.1 L2204.9 355.9 L2210 344.9 L2209.9 344.9 L2214.6 343.8 L2207.3 356 L2236.4 356 L2236.4 339 L2243.7 365.7 L2247.3 311.1 L2248.5 365.7 L2248.5 336.6 L2257 334.1 L2260.7 346.3 L2270.4 322 L2272.8 353.5 L2280.1 368.1 L2287.4 339 L2289.8 368.1 L2297.1 343.8 L2298.3 370.5 L2306.8 353.5 L2311.6 368.1 L2321.3 368.1 L2321.3 348.7 L2328.6 348.7 L2328.6 329.3 L2343.2 329.3 L2342 356 L2352.9 360.8 L2355.3 346.3 L2354.1 373 L2362 373 L2362 368.1 L2369.9 368.1 L2374.7 351.1 L2390.7 351.1 L2390.7 356 L2406.7 356 L2408.7 249.2 L2410.1 353.5 L2411.1 373 L2418.4 375.4 L2417.2 402.1 L2435.4 402.1 L2433 375.4 L2442.7 399.6 L2445.1 380.2 L2452.4 402.1 L2459.6 360.8 L2462.1 397.2 L2471.8 404.5 L2474.2 423.9 L2474.2 455.5 L2476.6 462.7 L2486.3 472.4 L2491.2 457.9 L2493.6 436 L2491.2 426.3 L2500.9 445.8 L2503.3 414.2 L2505.8 445.8 L2517.9 438.5 L2525.2 416.6 L2527.6 389.9 L2528.8 416.6 L2534.9 411.8 L2539.7 433.6 L2551.9 433.6 L2551.9 389.9 L2564 394.8 L2564 419.1 L2578.5 419.1 L2578.5 402.1 L2588.3 387.5 L2590.7 406.9 L2612.5 419.1 L2612.5 404.5 L2612.5 445.8 L2620 448.2 L2619.9 448.2 L2629.8 448.2 L2635.5 476.8 L2635.5 465.5 L2646.8 465.5 L2649.6 445.7 L2653.9 423 L2660.9 425.9 L2663.8 451.4 L2675.1 445.7 L2677.9 423 L2680.8 400.4 L2683.6 389.1 L2685 374.9 L2694.9 389.1 L2703.4 383.4 L2716.1 363.6 L2723.2 374.9 L2724.6 394.7 L2728.9 366.4 L2734.5 374.9 L2743.7 374.9 L2743.7 379.2 L2752.9 379.2 L2752.9 357.9 L2755.8 341 L2768.5 341 L2772.8 332.5 L2772.8 369.3 L2782.7 338.1 L2791.1 360.8 L2792.6 372.1 L2794 386.2 L2802.5 403.2 L2808.1 425.9 L2811 377.8 L2813.8 394.7 L2816.6 411.7 L2815.2 440 L2827.9 428.7 L2827.9 462.7 L2840.7 462.7 L2840.7 448.5 L2844.9 474 L2856.2 465.5 L2859.1 479.7 L2870.4 485.3 L2881.7 491 L2890.2 505.1 L2898.7 491 L2904.4 508 L2915.7 516.5 L2928.4 522.1 L2929.8 493.8 L2935.5 502.3 L2949.7 510.8 L2983.6 510.8 L2983.6 502.3 L2994.9 502.3 L2994.9 508 L3006.3 508 L3009.1 522.1 L3017.6 522.1 L3019 537.7 L3023.2 482.5 L3026.1 524.9 L3030 522.1 L3030.1 522.1 L3037.8 524 L3039.5 492 L3042.9 500.4 L3046.2 520.6 L3037.8 532.4 L3044.6 532.4 L3044.6 535.8 L3051.3 535.8 L3064.8 534.1 L3088.4 532.4 L3091.7 524 L3122 524 L3127.1 524 L3127.1 520.6 L3132.2 520.6 L3137.2 520.6 L3137.2 572.9 L3135.5 594.8 L3149 601.5 L3145.6 620 L3152.4 601.5 L3162.5 588 L3165.8 604.9 L3176 604.9 L3176 608.2 L3186.1 608.2 L3187.7 567.8 L3189.4 608.2 L3194.5 608.2 L3194.5 604.9 L3199.5 604.9 L3216.4 611.6 L3223.1 615 L3233.2 621.7 L3236.6 593.1 L3240 611.6 L3243.3 628.5 L3249.2 628.5 L3249.2 625.1 L3255.1 625.1 L3255.1 672.3 L3273.7 672.3 L3273.7 650.4 L3275.4 675.6 L3280.4 682.4 L3277 699.2 L3280.4 732.9 L3282.1 756.5 L3283.8 729.5 L3287.1 722.8 L3290.5 695.8 L3297.3 689.1 L3300.6 702.6 L3310.7 709.3 L3325.9 700.9 L3330.9 712.7 L3330.9 719.4 L3334.3 726.2 L3346.1 726.2 L3347.8 739.6 L3354.5 749.8 L3364.6 749.8 L3363 736.3 L3384.9 736.3 L3386.5 727.9 L3405.1 736.3 L3408.4 743 L3418.5 749.8 L3423.6 719.4 L3430 739.6" fill="none" stroke="#ff7f0e" stroke-width="6.25" stroke-linejoin="round"/>
<path d="M173 846.4L182.2 833.8M180 846L191.4 844M191.4 860.2L223.4 860.2M223.4 860.2L215.4 848.7M215.4 848.7L226.9 844M225.7 825.8L256.7 827M256.7 827L263.5 823.5M263.5 798.3L277.3 798.3M277.3 788L288.7 789.1M289.9 755.9L302.5 737.6M302.5 798.3L308.2 809.8M316.2 784.6L320.8 775.4M317.4 757.1L330 757.1M330 757.1L323.1 739.9M323.1 739.9L330 730.7M330 730.7L339.2 731.9M340.3 675.7L348.3 681.4M355.2 709L343.7 709M343.7 709L355.2 692.9M355.2 692.9L362.1 676.9M362.1 676.9L366.6 665.4M368.9 697.5L375.8 699.8M379.3 683.7L394.2 684.9M394.2 684.9L404.5 684.9M404.5 679.2L414.8 679.2M412.5 658.5L423.9 665.4M423.9 654L443.4 654M444.6 699.8L459.4 699.8M462.9 656.2L458.3 663.1M465.2 683.7L472 690.6M473.2 663.1L483.5 665.4M485.8 676.9L495 670M495 670L500.7 673.4M500.7 673.4L507 673.4M507 670L513.3 670M513.3 681.4L524.8 687.2M524.8 687.2L533.9 697.5M533.9 697.5L543.1 678M543.1 678L552.3 681.4M554.6 706.7L568.3 707.8M568.3 707.8L577.5 689.5M577.5 706.2L597.1 706.2M597.1 706.2L600.5 701.1M600.5 711.3L610.8 713M610.8 713L617.6 713M617.6 716.4L624.4 716.4M624.4 716.4L646.5 716.4M646.5 709.6L656.7 707.1M656.7 725L669.5 717.3M669.5 730L667 739.4M667 739.4L672 740.3M672 730L688.2 723.2M688.2 730L705.3 723.2M705.3 730L709.5 736M709.5 736L711.2 742M711.2 742L704.4 742M704.4 760.7L711.2 753.9M710.4 770.9L733.4 770.9M733.4 753.9L738.5 745.4M738.5 745.4L743.6 757.3M743.6 757.3L747 757.3M748.7 757.3L756.4 757.3M756.4 762.4L764 762.4M763.2 728.4L772.5 721.5M772.5 721.5L775.1 711.3M777.6 733.5L781 738.6M781 733.5L796.4 733.5M798 726.6L806.6 721.5M806.6 726.6L833.8 726.6M833.8 726.6L835.5 716.4M835.5 716.4L837.2 726.6M837.2 726.6L830.4 740.3M833.8 752.2L847.4 752.2M850.8 752.2L857.6 750.5M857.6 745.4L866.2 738.6M866.2 747.1L881.5 747.1M884.9 743.7L934.3 743.7M936 743.7L958.1 745.4M958.1 745.4L964.9 731.8M964.9 747.1L983.7 748.8M997.3 750.5L1000 753.9M1000 753.9L990 753.9M990 753.9L994.9 753.9M995.7 732.5L1072.1 732.5M1072.1 716L1079.5 721M1078.7 737.4L1090.2 737.4M1090.2 733.3L1107.4 733.3M1109.1 733.3L1119.8 730.8M1119.8 744L1135.4 744M1136.2 727.5L1137.8 724.3M1137 744L1169.9 744M1169.9 722.6L1177.3 722.6M1178.9 691.4L1183.8 683.2M1183.8 656.9L1221.6 656.9M1221.6 656.9L1223.2 652.8M1223.2 627.3L1236.4 629M1236.4 629L1251.2 629M1251.2 625.7L1266 625.7M1266 625.7L1279.1 625.7M1280.7 622.4L1284 630.6M1284 630.6L1310.3 630.6M1310.3 630.6L1313.6 640.5M1314.4 668.4L1328.4 668.4M1330.8 670.1L1345.6 670.1M1344.8 696.3L1357.9 696.3M1357.9 684.8L1365.3 684.8M1365.3 689.8L1372.7 689.8M1376 693L1390.8 693M1392.4 691.4L1400 689.8M1400 689.8L1390 695M1396.7 695L1404.3 695M1405.1 689.9L1433.7 689.9M1433.7 689.9L1437.1 683.2M1437.1 683.2L1442.2 688.3M1443 701.7L1477.5 701.7M1477.5 689.9L1484.2 700M1484.2 732L1491 732M1506.1 737.1L1517.9 737.1M1520.4 737.1L1526.3 737.1M1526.3 737.1L1528 728.6M1526.3 716.9L1539.8 716.9M1538.1 701.7L1549 693.3M1551.5 713.5L1559.1 700M1556.6 725.3L1571.7 725.3M1571.7 725.3L1577.6 720.2M1576.8 705.1L1583.5 706.8M1583.5 706.8L1578.5 695M1578.5 695L1595.3 695M1594.4 666.4L1605.4 656.3M1613.8 686.6L1619.7 686.6M1619.7 683.2L1625.6 683.2M1625.6 683.2L1630.6 678.2M1627.3 659.7L1638.2 669.8M1639 641.2L1645.8 651.2M1645.8 651.2L1644.1 659.7M1644.1 659.7L1662.6 659.7M1666 644.5L1676.1 644.5M1676.1 644.5L1678.6 637.8M1678.6 637.8L1680.3 647.9M1680.3 647.9L1689.5 644.5M1689.5 644.5L1692.9 634.4M1692 614.2L1709.7 614.2M1713.9 582.3L1722.3 572.2M1722.3 572.2L1728.2 580.6M1726.5 599.1L1750.1 599.1M1750.1 599.1L1751.8 605.8M1751.8 605.8L1768.6 605.8M1768.6 605.8L1772.8 615.9M1772.8 615.9L1783.7 610.9M1785.4 562.1L1783.7 552M1787.1 540.2L1792.2 533.5M1793 523.4L1797.2 521.7M1797.3 490.5L1807 490.5M1809.4 456.6L1814.3 451.7M1811.8 439.6L1814.3 429.9M1816.7 422.6L1826.4 412.9M1826.4 412.9L1836.1 432.3M1836.1 415.3L1841 410.4M1841 398.3L1848.2 391M1848.2 391L1857.9 395.9M1860.4 381.3L1867.7 383.8M1867.7 383.8L1860.4 374M1859.2 363.1L1867.7 359.5M1867.7 359.5L1872.5 361.9M1872.5 361.9L1874.9 360.7M1874.9 360.7L1884.6 360.7M1884.6 354.6L1894.3 354.6M1894.3 354.6L1896.8 359.5M1896.8 359.5L1918.6 357.1M1918.6 357.1L1929.5 349.8M1929.5 349.8L1935.6 359.5M1935.6 359.5L1945.3 361.9M1945.3 347.4L1957.4 353.4M1957.4 353.4L1955 342.5M1955 342.5L2001.1 342.5M2001.1 342.5L2003.5 340.1M1996.3 363.1L2001.1 357.1M2001.1 357.1L2015.7 355.9M2013.2 323.1L2015.7 332.8M2015.7 332.8L2023 337.7M2030.2 357.1L2035.1 359.5M2039.9 354.6L2061.8 354.6M2061.8 325.5L2071.5 317M2071.5 317L2077.6 317M2077.6 313.4L2083.6 313.4M2086 327.9L2095.8 319.5M2095.8 319.5L2103 325.5M2105.5 342.5L2095.8 340.1M2095.8 340.1L2106.7 340.1M2106.7 332.8L2117.6 332.8M2122.4 330.4L2134.6 311M2139.4 342.5L2154 342.5M2156.4 344.9L2192.8 344.9M2194 325.5L2202.5 323.1M2204.9 355.9L2210 344.9M2209.9 344.9L2214.6 343.8M2214.6 343.8L2207.3 356M2207.3 356L2236.4 356M2248.5 336.6L2257 334.1M2260.7 346.3L2270.4 322M2272.8 353.5L2280.1 368.1M2298.3 370.5L2306.8 353.5M2311.6 368.1L2321.3 368.1M2321.3 348.7L2328.6 348.7M2328.6 329.3L2343.2 329.3M2342 356L2352.9 360.8M2354.1 373L2362 373M2362 368.1L2369.9 368.1M2374.7 351.1L2390.7 351.1M2390.7 356L2406.7 356M2411.1 373L2418.4 375.4M2417.2 402.1L2435.4 402.1M2433 375.4L2442.7 399.6M2462.1 397.2L2471.8 404.5M2474.2 455.5L2476.6 462.7M2476.6 462.7L2486.3 472.4M2493.6 436L2491.2 426.3M2491.2 426.3L2500.9 445.8M2505.8 445.8L2517.9 438.5M2528.8 416.6L2534.9 411.8M2539.7 433.6L2551.9 433.6M2551.9 389.9L2564 394.8M2564 419.1L2578.5 419.1M2578.5 402.1L2588.3 387.5M2590.7 406.9L2612.5 419.1M2612.5 445.8L2620 448.2M2619.9 448.2L2629.8 448.2M2635.5 465.5L2646.8 465.5M2653.9 423L2660.9 425.9M2663.8 451.4L2675.1 445.7M2685 374.9L2694.9 389.1M2694.9 389.1L2703.4 383.4M2703.4 383.4L2716.1 363.6M2716.1 363.6L2723.2 374.9M2728.9 366.4L2734.5 374.9M2734.5 374.9L2743.7 374.9M2743.7 379.2L2752.9 379.2M2755.8 341L2768.5 341M2768.5 341L2772.8 332.5M2794 386.2L2802.5 403.2M2815.2 440L2827.9 428.7M2827.9 462.7L2840.7 462.7M2844.9 474L2856.2 465.5M2859.1 479.7L2870.4 485.3M2870.4 485.3L2881.7 491M2881.7 491L2890.2 505.1M2890.2 505.1L2898.7 491M2904.4 508L2915.7 516.5M2915.7 516.5L2928.4 522.1M2929.8 493.8L2935.5 502.3M2935.5 502.3L2949.7 510.8M2949.7 510.8L2983.6 510.8M2983.6 502.3L2994.9 502.3M2994.9 508L3006.3 508M3009.1 522.1L3017.6 522.1M3026.1 524.9L3030 522.1M3030.1 522.1L3037.8 524M3039.5 492L3042.9 500.4M3046.2 520.6L3037.8 532.4M3037.8 532.4L3044.6 532.4M3044.6 535.8L3051.3 535.8M3051.3 535.8L3064.8 534.1M3064.8 534.1L3088.4 532.4M3088.4 532.4L3091.7 524M3091.7 524L3122 524M3122 524L3127.1 524M3127.1 520.6L3132.2 520.6M3132.2 520.6L3137.2 520.6M3135.5 594.8L3149 601.5M3152.4 601.5L3162.5 588M3165.8 604.9L3176 604.9M3176 608.2L3186.1 608.2M3189.4 608.2L3194.5 608.2M3194.5 604.9L3199.5 604.9M3199.5 604.9L3216.4 611.6M3216.4 611.6L3223.1 615M3223.1 615L3233.2 621.7M3243.3 628.5L3249.2 628.5M3249.2 625.1L3255.1 625.1M3255.1 672.3L3273.7 672.3M3275.4 675.6L3280.4 682.4M3283.8 729.5L3287.1 722.8M3290.5 695.8L3297.3 689.1M3300.6 702.6L3310.7 709.3M3310.7 709.3L3325.9 700.9M3325.9 700.9L3330.9 712.7M3330.9 719.4L3334.3 726.2M3334.3 726.2L3346.1 726.2M3347.8 739.6L3354.5 749.8M3354.5 749.8L3364.6 749.8M3363 736.3L3384.9 736.3M3384.9 736.3L3386.5 727.9M3386.5 727.9L3405.1 736.3M3405.1 736.3L3408.4 743M3408.4 743L3418.5 749.8" fill="none" stroke="#ff7f0e" stroke-width="12.5" stroke-linecap="round" stroke-linejoin="round"/>
<path d="M173 846.4h0M182.2 833.8h0M180 846h0M191.4 844h0M191.4 860.2h0M223.4 860.2h0M215.4 848.7h0M226.9 844h0M225.7 825.8h0M256.7 827h0M263.5 823.5h0M261.2 807.5h0M264.7 781.1h0M263.5 798.3h0M277.3 798.3h0M277.3 788h0M288.7 789.1h0M286.4 773.1h0M289.9 755.9h0M302.5 737.6h0M302.5 798.3h0M308.2 809.8h0M309.4 766.2h0M316.2 784.6h0M320.8 775.4h0M317.4 757.1h0M330 757.1h0M323.1 739.9h0M330 730.7h0M339.2 731.9h0M340.3 725h0M340.3 703.2h0M340.3 675.7h0M348.3 681.4h0M355.2 709h0M343.7 709h0M355.2 692.9h0M362.1 676.9h0M366.6 665.4h0M368.9 697.5h0M375.8 699.8h0M375.8 667.7h0M379.3 683.7h0M394.2 684.9h0M394.2 665.4h0M394.2 684.9h0M404.5 684.9h0M404.5 679.2h0M414.8 679.2h0M412.5 658.5h0M423.9 665.4h0M423.9 654h0M443.4 654h0M444.6 663.1h0M444.6 688.3h0M444.6 699.8h0M459.4 699.8h0M456 688.3h0M462.9 656.2h0M458.3 663.1h0M465.2 683.7h0M472 690.6h0M473.2 663.1h0M483.5 665.4h0M485.8 676.9h0M495 670h0M500.7 673.4h0M507 673.4h0M507 670h0M513.3 670h0M513.3 681.4h0M524.8 687.2h0M533.9 697.5h0M543.1 678h0M552.3 681.4h0M554.6 697.5h0M554.6 706.7h0M568.3 707.8h0M577.5 689.5h0M577.5 706.2h0M577.5 706.2h0M597.1 706.2h0M600.5 701.1h0M600.5 711.3h0M610.8 713h0M617.6 713h0M617.6 716.4h0M624.4 716.4h0M646.5 716.4h0M646.5 709.6h0M656.7 707.1h0M656.7 725h0M669.5 717.3h0M669.5 730h0M667 739.4h0M672 740.3h0M672 730h0M688.2 723.2h0M688.2 730h0M705.3 723.2h0M705.3 730h0M709.5 736h0M711.2 742h0M704.4 742h0M704.4 760.7h0M711.2 753.9h0M710.4 770.9h0M733.4 770.9h0M733.4 753.9h0M738.5 745.4h0M743.6 757.3h0M747 757.3h0M747 719.8h0M748.7 757.3h0M756.4 757.3h0M756.4 762.4h0M764 762.4h0M763.2 736.9h0M763.2 728.4h0M772.5 721.5h0M775.1 711.3h0M777.6 733.5h0M781 738.6h0M781 733.5h0M796.4 733.5h0M798 696h0M798 726.6h0M806.6 721.5h0M806.6 726.6h0M833.8 726.6h0M835.5 716.4h0M837.2 726.6h0M830.4 740.3h0M833.8 752.2h0M847.4 752.2h0M849.1 730h0M850.8 752.2h0M857.6 750.5h0M857.6 745.4h0M866.2 738.6h0M866.2 747.1h0M881.5 747.1h0M883.2 725h0M884.9 743.7h0M934.3 743.7h0M934.3 725h0M936 743.7h0M958.1 745.4h0M964.9 731.8h0M964.9 747.1h0M983.7 748.8h0M985.4 760.7h0M995.6 733.5h0M997.3 750.5h0M1000 753.9h0M990 753.9h0M994.9 753.9h0M995.7 745.6h0M995.7 732.5h0M1072.1 732.5h0M1072.1 716h0M1079.5 721h0M1078.7 737.4h0M1090.2 737.4h0M1090.2 733.3h0M1107.4 733.3h0M1107.4 702.1h0M1109.1 733.3h0M1119.8 730.8h0M1119.8 744h0M1135.4 744h0M1135.4 761.2h0M1136.2 727.5h0M1137.8 724.3h0M1137 744h0M1169.9 744h0M1169.9 722.6h0M1177.3 722.6h0M1177.3 704.5h0M1178.9 691.4h0M1183.8 683.2h0M1183.8 656.9h0M1221.6 656.9h0M1223.2 652.8h0M1223.2 627.3h0M1236.4 629h0M1251.2 629h0M1251.2 625.7h0M1266 625.7h0M1279.1 625.7h0M1279.9 597.8h0M1280.7 622.4h0M1284 630.6h0M1310.3 630.6h0M1313.6 640.5h0M1314.4 668.4h0M1328.4 668.4h0M1330 696.3h0M1330.8 670.1h0M1345.6 670.1h0M1346.4 679.9h0M1344.8 696.3h0M1357.9 696.3h0M1357.9 684.8h0M1365.3 684.8h0M1365.3 689.8h0M1372.7 689.8h0M1375.2 661.8h0M1376 693h0M1390.8 693h0M1390.8 673.3h0M1392.4 691.4h0M1400 689.8h0M1390 695h0M1393.4 673.1h0M1396.7 695h0M1404.3 695h0M1404.3 674.8h0M1405.1 689.9h0M1433.7 689.9h0M1437.1 683.2h0M1442.2 688.3h0M1442.2 624.3h0M1443.8 688.3h0M1443 701.7h0M1477.5 701.7h0M1477.5 689.9h0M1484.2 700h0M1484.2 713.5h0M1484.2 732h0M1491 732h0M1497.7 755.6h0M1501.1 725.3h0M1501.9 668.1h0M1504.4 755.6h0M1506.1 737.1h0M1517.9 737.1h0M1517.9 752.2h0M1518.7 678.2h0M1520.4 737.1h0M1526.3 737.1h0M1528 728.6h0M1526.3 716.9h0M1539.8 716.9h0M1538.1 701.7h0M1549 693.3h0M1551.5 713.5h0M1559.1 700h0M1556.6 725.3h0M1571.7 725.3h0M1577.6 720.2h0M1576.8 705.1h0M1583.5 706.8h0M1578.5 695h0M1595.3 695h0M1594.4 671.4h0M1594.4 666.4h0M1605.4 656.3h0M1608.7 681.5h0M1615.5 663.9h0M1613.8 686.6h0M1619.7 686.6h0M1619.7 683.2h0M1625.6 683.2h0M1630.6 678.2h0M1627.3 659.7h0M1638.2 669.8h0M1639 641.2h0M1645.8 651.2h0M1644.1 659.7h0M1662.6 659.7h0M1661.7 631.9h0M1666 644.5h0M1676.1 644.5h0M1678.6 637.8h0M1680.3 647.9h0M1689.5 644.5h0M1692.9 634.4h0M1692 614.2h0M1709.7 614.2h0M1709.7 600.8h0M1713.9 582.3h0M1722.3 572.2h0M1728.2 580.6h0M1726.5 599.1h0M1750.1 599.1h0M1751.8 605.8h0M1768.6 605.8h0M1772.8 615.9h0M1783.7 610.9h0M1784.6 599.1h0M1785.4 587.3h0M1784.6 577.2h0M1785.4 562.1h0M1783.7 552h0M1787.1 540.2h0M1792.2 533.5h0M1793.8 558.7h0M1793 523.4h0M1797.2 521.7h0M1797.3 521.7h0M1799.7 505.1h0M1797.3 490.5h0M1807 490.5h0M1807 473.5h0M1809.4 456.6h0M1814.3 451.7h0M1811.8 439.6h0M1814.3 429.9h0M1815.5 405.6h0M1816.7 422.6h0M1826.4 412.9h0M1836.1 432.3h0M1836.1 415.3h0M1841 410.4h0M1841 398.3h0M1848.2 391h0M1857.9 395.9h0M1859.2 409.2h0M1860.4 381.3h0M1867.7 383.8h0M1860.4 374h0M1859.2 363.1h0M1867.7 359.5h0M1872.5 361.9h0M1874.9 360.7h0M1884.6 360.7h0M1884.6 354.6h0M1894.3 354.6h0M1896.8 359.5h0M1918.6 357.1h0M1929.5 349.8h0M1935.6 359.5h0M1945.3 361.9h0M1942.9 334h0M1945.3 347.4h0M1957.4 353.4h0M1955 342.5h0M2001.1 342.5h0M2003.5 340.1h0M1996.3 363.1h0M2001.1 357.1h0M2015.7 355.9h0M2013.2 323.1h0M2015.7 332.8h0M2023 337.7h0M2027.8 323.1h0M2032.7 340.1h0M2030.2 357.1h0M2035.1 359.5h0M2039.9 337.7h0M2039.9 354.6h0M2061.8 354.6h0M2061.8 325.5h0M2071.5 317h0M2077.6 317h0M2077.6 313.4h0M2083.6 313.4h0M2086 327.9h0M2095.8 319.5h0M2103 325.5h0M2105.5 342.5h0M2095.8 340.1h0M2106.7 340.1h0M2106.7 332.8h0M2117.6 332.8h0M2121.2 300h0M2122.4 330.4h0M2134.6 311h0M2133.4 332.8h0M2134.6 357.1h0M2139.4 342.5h0M2154 342.5h0M2155.2 330.4h0M2156.4 344.9h0M2192.8 344.9h0M2194 325.5h0M2202.5 323.1h0M2204.9 355.9h0M2210 344.9h0M2209.9 344.9h0M2214.6 343.8h0M2207.3 356h0M2236.4 356h0M2236.4 339h0M2243.7 365.7h0M2247.3 311.1h0M2248.5 365.7h0M2248.5 336.6h0M2257 334.1h0M2260.7 346.3h0M2270.4 322h0M2272.8 353.5h0M2280.1 368.1h0M2287.4 339h0M2289.8 368.1h0M2297.1 343.8h0M2298.3 370.5h0M2306.8 353.5h0M2311.6 368.1h0M2321.3 368.1h0M2321.3 348.7h0M2328.6 348.7h0M2328.6 329.3h0M2343.2 329.3h0M2342 356h0M2352.9 360.8h0M2355.3 346.3h0M2354.1 373h0M2362 373h0M2362 368.1h0M2369.9 368.1h0M2374.7 351.1h0M2390.7 351.1h0M2390.7 356h0M2406.7 356h0M2408.7 249.2h0M2410.1 353.5h0M2411.1 373h0M2418.4 375.4h0M2417.2 402.1h0M2435.4 402.1h0M2433 375.4h0M2442.7 399.6h0M2445.1 380.2h0M2452.4 402.1h0M2459.6 360.8h0M2462.1 397.2h0M2471.8 404.5h0M2474.2 423.9h0M2474.2 455.5h0M2476.6 462.7h0M2486.3 472.4h0M2491.2 457.9h0M2493.6 436h0M2491.2 426.3h0M2500.9 445.8h0M2503.3 414.2h0M2505.8 445.8h0M2517.9 438.5h0M2525.2 416.6h0M2527.6 389.9h0M2528.8 416.6h0M2534.9 411.8h0M2539.7 433.6h0M2551.9 433.6h0M2551.9 389.9h0M2564 394.8h0M2564 419.1h0M2578.5 419.1h0M2578.5 402.1h0M2588.3 387.5h0M2590.7 406.9h0M2612.5 419.1h0M2612.5 404.5h0M2612.5 445.8h0M2620 448.2h0M2619.9 448.2h0M2629.8 448.2h0M2635.5 476.8h0M2635.5 465.5h0M2646.8 465.5h0M2649.6 445.7h0M2653.9 423h0M2660.9 425.9h0M2663.8 451.4h0M2675.1 445.7h0M2677.9 423h0M2680.8 400.4h0M2683.6 389.1h0M2685 374.9h0M2694.9 389.1h0M2703.4 383.4h0M2716.1 363.6h0M2723.2 374.9h0M2724.6 394.7h0M2728.9 366.4h0M2734.5 374.9h0M2743.7 374.9h0M2743.7 379.2h0M2752.9 379.2h0M2752.9 357.9h0M2755.8 341h0M2768.5 341h0M2772.8 332.5h0M2772.8 369.3h0M2782.7 338.1h0M2791.1 360.8h0M2792.6 372.1h0M2794 386.2h0M2802.5 403.2h0M2808.1 425.9h0M2811 377.8h0M2813.8 394.7h0M2816.6 411.7h0M2815.2 440h0M2827.9 428.7h0M2827.9 462.7h0M2840.7 462.7h0M2840.7 448.5h0M2844.9 474h0M2856.2 465.5h0M2859.1 479.7h0M2870.4 485.3h0M2881.7 491h0M2890.2 505.1h0M2898.7 491h0M2904.4 508h0M2915.7 516.5h0M2928.4 522.1h0M2929.8 493.8h0M2935.5 502.3h0M2949.7 510.8h0M2983.6 510.8h0M2983.6 502.3h0M2994.9 502.3h0M2994.9 508h0M3006.3 508h0M3009.1 522.1h0M3017.6 522.1h0M3019 537.7h0M3023.2 482.5h0M3026.1 524.9h0M3030 522.1h0M3030.1 522.1h0M3037.8 524h0M3039.5 492h0M3042.9 500.4h0M3046.2 520.6h0M3037.8 532.4h0M3044.6 532.4h0M3044.6 535.8h0M3051.3 535.8h0M3064.8 534.1h0M3088.4 532.4h0M3091.7 524h0M3122 524h0M3127.1 524h0M3127.1 520.6h0M3132.2 520.6h0M3137.2 520.6h0M3137.2 572.9h0M3135.5 594.8h0M3149 601.5h0M3145.6 620h0M3152.4 601.5h0M3162.5 588h0M3165.8 604.9h0M3176 604.9h0M3176 608.2h0M3186.1 608.2h0M3187.7 567.8h0M3189.4 608.2h0M3194.5 608.2h0M3194.5 604.9h0M3199.5 604.9h0M3216.4 611.6h0M3223.1 615h0M3233.2 621.7h0M3236.6 593.1h0M3240 611.6h0M3243.3 628.5h0M3249.2 628.5h0M3249.2 625.1h0M3255.1 625.1h0M3255.1 672.3h0M3273.7 672.3h0M3273.7 650.4h0M3275.4 675.6h0M3280.4 682.4h0M3277 699.2h0M3280.4 732.9h0M3282.1 756.5h0M3283.8 729.5h0M3287.1 722.8h0M3290.5 695.8h0M3297.3 689.1h0M3300.6 702.6h0M3310.7 709.3h0M3325.9 700.9h0M3330.9 712.7h0M3330.9 719.4h0M3334.3 726.2h0M3346.1 726.2h0M3347.8 739.6h0M3354.5 749.8h0M3364.6 749.8h0M3363 736.3h0M3384.9 736.3h0M3386.5 727.9h0M3405.1 736.3h0M3408.4 743h0M3418.5 749.8h0M3423.6 719.4h0M3430 739.6h0M313.6 777.7h0M352.5 698.4h0M460.2 668.6h0M462.5 675.8h0M989.6 749.4h0M993.9 738.1h0M1495.2 746.9h0M1613 670.4h0M1999.3 353.5h0M2027.2 324.9h0M2032 337.9h0M2039.3 340.4h0M2138.8 344.3h0M2240.6 354.5h0M2284.3 351.1h0M2294 354h0M2311 366.3h0M2374.1 353.3h0M2449.3 393h0M2456.6 378h0M2490.6 459.7h0M2522.1 425.8h0M2539.1 430.9h0M2634.1 469.6h0M2653.9 423.1h0M2728.9 366.5h0M2777 355.9h0M2781.2 342.6h0M2786.9 349.4h0M2791.1 360.7h0M2806.7 420.2h0M2844.9 474h0M2902.9 503.7h0M3023.2 482.6h0M3149.9 608.4h0M3422.8 724.3h0M3427.8 732.8h0" fill="none" stroke="#ff7f0e" stroke-width="12.5" stroke-linecap="round"/>
<path d="M170 1855 L178.6 1855 L178.6 1929.5 L196 1929.5 L196 1919.5 L197 1929.5 L217 1929.5 L217 1853.5 L242.3 1853.5 L242.3 1863.5 L409.8 1863.5 L409.8 1827.8 L527.2 1827.8 L527.2 1740.4 L577.5 1740.4 L575 1740.4 L621.7 1740.4 L620.4 1757.2 L621.7 1775.4 L621.7 1757.2 L655.4 1757.2 L655.4 1844.1 L992.7 1844.1 L992.7 1784.4 L1000 1784.4 L993.7 1784.4 L1120.4 1784.4 L1118.6 1861.1 L1298.6 1861.1 L1300.4 1851.9 L1335.3 1851.9 L1337.2 1861.1 L1400 1861.1 L1390 1861.1 L1637.8 1861.1 L1637.8 1808.7 L1731.3 1808.7 L1731.3 1791.3 L1772.6 1791.3 L1772.6 1782.6 L1810 1782.6 L1810 1782.6 L1830.4 1782.6 L1830.4 1701.1 L1835.9 1701.1 L1835.9 1642.4 L1837.7 1625.9 L1837.7 1642.4 L1887.3 1642.4 L1885.5 1591 L1995.7 1591 L1993.8 1579.9 L2003 1568.9 L2004.8 1587.3 L2003 1646.1 L2028.7 1646.1 L2028.7 1638.7 L2028.7 1649.7 L2146.2 1649.7 L2146.2 1701.1 L2157.2 1701.1 L2155.4 1624 L2190.3 1624 L2188.5 1545.1 L2212.3 1545.1 L2212.3 1467.9 L2214.2 1545.1 L2220 1545.1 L2220 1545.1 L2222.1 1508 L2325.9 1508 L2324.1 1480.8 L2353.1 1480.8 L2351.4 1531.8 L2407.5 1531.8 L2409.2 1453.6 L2410.9 1531.8 L2424.5 1531.8 L2424.5 1472.3 L2426.2 1480.8 L2434.7 1479.1 L2434.7 1562.4 L2467 1562.4 L2467 1526.7 L2468.7 1545.4 L2560.5 1545.4 L2560.5 1538.6 L2615 1538.6 L2615 1615.2 L2629.9 1615.2 L2615.1 1615.2 L2627 1615.2 L2691.7 1615.2 L2691.7 1593.2 L2691.7 1618.7 L2798.9 1618.7 L2798.9 1577.8 L2884 1577.8 L2884 1697 L2897.6 1697 L2897.6 1734.4 L2899.3 1697 L2989.5 1697 L2989.5 1690.2 L2989.5 1749.7 L3030 1749.7 L3029.9 1749.7 L3091 1749.7 L3091 1738.3 L3119.5 1738.3 L3119.5 1750.3 L3156.7 1750.3 L3156.7 1724 L3194 1724 L3194 1750.3 L3196.2 1758 L3207.1 1755.8 L3220.2 1755.8 L3222.4 1738.3 L3222.4 1762.4 L3233.4 1764.5 L3235.6 1768.9 L3250.9 1768.9 L3250.9 1764.5 L3312.2 1764.5 L3314.4 1768.9 L3347.3 1768.9 L3347.3 1740.5 L3348.4 1768.9 L3410.8 1768.9 L3410.8 1759.1 L3411.9 1699.9 L3426.1 1699.9" fill="none" stroke="#2ca02c" stroke-width="6.25" stroke-linejoin="round"/>
<path d="M170 1855L178.6 1855M178.6 1929.5L196 1929.5M197 1929.5L217 1929.5M217 1853.5L242.3 1853.5M242.3 1863.5L409.8 1863.5M409.8 1827.8L527.2 1827.8M527.2 1740.4L577.5 1740.4M577.5 1740.4L575 1740.4M575 1740.4L621.7 1740.4M621.7 1757.2L655.4 1757.2M655.4 1844.1L992.7 1844.1M992.7 1784.4L1000 1784.4M1000 1784.4L993.7 1784.4M993.7 1784.4L1120.4 1784.4M1118.6 1861.1L1298.6 1861.1M1298.6 1861.1L1300.4 1851.9M1300.4 1851.9L1335.3 1851.9M1335.3 1851.9L1337.2 1861.1M1337.2 1861.1L1400 1861.1M1400 1861.1L1390 1861.1M1390 1861.1L1637.8 1861.1M1637.8 1808.7L1731.3 1808.7M1731.3 1791.3L1772.6 1791.3M1772.6 1782.6L1810 1782.6M1810 1782.6L1830.4 1782.6M1830.4 1701.1L1835.9 1701.1M1837.7 1642.4L1887.3 1642.4M1885.5 1591L1995.7 1591M1993.8 1579.9L2003 1568.9M2003 1646.1L2028.7 1646.1M2028.7 1649.7L2146.2 1649.7M2146.2 1701.1L2157.2 1701.1M2155.4 1624L2190.3 1624M2188.5 1545.1L2212.3 1545.1M2214.2 1545.1L2220 1545.1M2222.1 1508L2325.9 1508M2324.1 1480.8L2353.1 1480.8M2351.4 1531.8L2407.5 1531.8M2410.9 1531.8L2424.5 1531.8M2424.5 1472.3L2426.2 1480.8M2426.2 1480.8L2434.7 1479.1M2434.7 1562.4L2467 1562.4M2468.7 1545.4L2560.5 1545.4M2560.5 1538.6L2615 1538.6M2615 1615.2L2629.9 1615.2M2629.9 1615.2L2615.1 1615.2M2615.1 1615.2L2627 1615.2M2627 1615.2L2691.7 1615.2M2691.7 1618.7L2798.9 1618.7M2798.9 1577.8L2884 1577.8M2884 1697L2897.6 1697M2899.3 1697L2989.5 1697M2989.5 1749.7L3030 1749.7M3029.9 1749.7L3091 1749.7M3091 1738.3L3119.5 1738.3M3119.5 1750.3L3156.7 1750.3M3156.7 1724L3194 1724M3194 1750.3L3196.2 1758M3196.2 1758L3207.1 1755.8M3207.1 1755.8L3220.2 1755.8M3222.4 1762.4L3233.4 1764.5M3233.4 1764.5L3235.6 1768.9M3235.6 1768.9L3250.9 1768.9M3250.9 1764.5L3312.2 1764.5M3312.2 1764.5L3314.4 1768.9M3314.4 1768.9L3347.3 1768.9M3348.4 1768.9L3410.8 1768.9M3411.9 1699.9L3426.1 1699.9" fill="none" stroke="#2ca02c" stroke-width="12.5" stroke-linecap="round" stroke-linejoin="round"/>
<path d="M170 1855h0M178.6 1855h0M178.6 1929.5h0M196 1929.5h0M196 1919.5h0M197 1929.5h0M217 1929.5h0M217 1853.5h0M242.3 1853.5h0M242.3 1863.5h0M409.8 1863.5h0M409.8 1827.8h0M527.2 1827.8h0M527.2 1740.4h0M577.5 1740.4h0M575 1740.4h0M621.7 1740.4h0M620.4 1757.2h0M621.7 1775.4h0M621.7 1757.2h0M655.4 1757.2h0M655.4 1844.1h0M992.7 1844.1h0M992.7 1784.4h0M1000 1784.4h0M993.7 1784.4h0M1120.4 1784.4h0M1118.6 1861.1h0M1298.6 1861.1h0M1300.4 1851.9h0M1335.3 1851.9h0M1337.2 1861.1h0M1400 1861.1h0M1390 1861.1h0M1637.8 1861.1h0M1637.8 1808.7h0M1731.3 1808.7h0M1731.3 1791.3h0M1772.6 1791.3h0M1772.6 1782.6h0M1810 1782.6h0M1810 1782.6h0M1830.4 1782.6h0M1830.4 1701.1h0M1835.9 1701.1h0M1835.9 1642.4h0M1837.7 1625.9h0M1837.7 1642.4h0M1887.3 1642.4h0M1885.5 1591h0M1995.7 1591h0M1993.8 1579.9h0M2003 1568.9h0M2004.8 1587.3h0M2003 1646.1h0M2028.7 1646.1h0M2028.7 1638.7h0M2028.7 1649.7h0M2146.2 1649.7h0M2146.2 1701.1h0M2157.2 1701.1h0M2155.4 1624h0M2190.3 1624h0M2188.5 1545.1h0M2212.3 1545.1h0M2212.3 1467.9h0M2214.2 1545.1h0M2220 1545.1h0M2220 1545.1h0M2222.1 1508h0M2325.9 1508h0M2324.1 1480.8h0M2353.1 1480.8h0M2351.4 1531.8h0M2407.5 1531.8h0M2409.2 1453.6h0M2410.9 1531.8h0M2424.5 1531.8h0M2424.5 1472.3h0M2426.2 1480.8h0M2434.7 1479.1h0M2434.7 1562.4h0M2467 1562.4h0M2467 1526.7h0M2468.7 1545.4h0M2560.5 1545.4h0M2560.5 1538.6h0M2615 1538.6h0M2615 1615.2h0M2629.9 1615.2h0M2615.1 1615.2h0M2627 1615.2h0M2691.7 1615.2h0M2691.7 1593.2h0M2691.7 1618.7h0M2798.9 1618.7h0M2798.9 1577.8h0M2884 1577.8h0M2884 1697h0M2897.6 1697h0M2897.6 1734.4h0M2899.3 1697h0M2989.5 1697h0M2989.5 1690.2h0M2989.5 1749.7h0M3030 1749.7h0M3029.9 1749.7h0M3091 1749.7h0M3091 1738.3h0M3119.5 1738.3h0M3119.5 1750.3h0M3156.7 1750.3h0M3156.7 1724h0M3194 1724h0M3194 1750.3h0M3196.2 1758h0M3207.1 1755.8h0M3220.2 1755.8h0M3222.4 1738.3h0M3222.4 1762.4h0M3233.4 1764.5h0M3235.6 1768.9h0M3250.9 1768.9h0M3250.9 1764.5h0M3312.2 1764.5h0M3314.4 1768.9h0M3347.3 1768.9h0M3347.3 1740.5h0M3348.4 1768.9h0M3410.8 1768.9h0M3410.8 1759.1h0M3411.9 1699.9h0M3426.1 1699.9h0" fill="none" stroke="#2ca02c" stroke-width="12.5" stroke-linecap="round"/>
<path d="M165 1937.5 L355 1937.5 L356 1936.2 L367 1936.2 L369 1931.3 L575 1931.3 L799.4 1931.3 L798.1 1912.9 L799.4 1905.1 L799.4 1912.9 L881.2 1912.9 L883.8 1907.7 L1000 1907.7 L990 1907.7 L1118.6 1907.7 L1122.3 1905.1 L1210.4 1905.1 L1212.3 1899.6 L1214.1 1906.2 L1400 1907 L1390 1907 L1540 1907 L1540 1869.6 L1540 1893.5 L1596.5 1893.5 L1596.5 1878.3 L1607.4 1878.3 L1609.6 1873.9 L1617.2 1873.9 L1617.2 1869.6 L1624.8 1869.6 L1624.8 1863 L1640 1865.2 L1640 1843.5 L1640 1880.4 L1783.5 1880.4 L1783.5 1869.6 L1787.8 1858.7 L1810 1858.7 L1810 1858.7 L1867.1 1858.7 L1865.3 1813.1 L1872.6 1805.8 L1909.4 1805.8 L1909.4 1789.3 L1911.2 1805.8 L1944.2 1804 L1944.2 1833.3 L1969.9 1835.2 L1981 1837 L1982.8 1849.9 L1988.3 1831.5 L1990.1 1844.4 L2014 1844.4 L2012.2 1829.7 L2021.4 1829.7 L2039.7 1827.8 L2054.4 1838.9 L2061.8 1835.2 L2065.4 1848 L2105.8 1848 L2105.8 1838.9 L2131.5 1838.9 L2133.4 1829.7 L2135.2 1837 L2220 1837 L2220 1837 L2308.8 1837 L2308.8 1831.2 L2359.9 1831.2 L2359.9 1841.4 L2365 1841.4 L2365 1838 L2370.1 1838 L2370.1 1855 L2410.9 1856.7 L2412.6 1844.8 L2412.6 1855 L2420.2 1855 L2420.2 1851.6 L2427.9 1851.6 L2431.3 1841.4 L2438.1 1848.2 L2441.5 1836.3 L2458.5 1834.6 L2458.5 1844.8 L2470.4 1844.8 L2470.4 1848.2 L2482.3 1848.2 L2484 1856.7 L2526.5 1856.7 L2526.5 1844.8 L2528.2 1855 L2629.9 1855 L2630 1855 L2696.8 1855 L2696.8 1868.9 L2730.8 1868.9 L2730.8 1875.7 L2844.9 1875.7 L2844.9 1868.9 L2853.4 1880.8 L2853.4 1892.7 L2885.7 1892.7 L2887.4 1887.6 L2902.7 1887.6 L2906.1 1892.7 L2945.3 1892.7 L2945.3 1879.1 L2950.4 1879.1 L2953.8 1882.5 L3030 1882.5 L3029.9 1882.5 L3104.2 1882.5 L3104.2 1894.9 L3145.8 1894.9 L3145.8 1904.7 L3146.9 1894.9 L3264.1 1894.9 L3264.1 1882.8 L3301.3 1882.8 L3301.3 1892.7 L3340.7 1892.7 L3340.7 1874.1 L3349.5 1874.1 L3349.5 1860.9 L3426.1 1860.9" fill="none" stroke="#d62728" stroke-width="6.25" stroke-linejoin="round"/>
<path d="M165 1937.5L355 1937.5M356 1936.2L367 1936.2M367 1936.2L369 1931.3M369 1931.3L575 1931.3M575 1931.3L799.4 1931.3M799.4 1912.9L881.2 1912.9M881.2 1912.9L883.8 1907.7M883.8 1907.7L1000 1907.7M1000 1907.7L990 1907.7M990 1907.7L1118.6 1907.7M1118.6 1907.7L1122.3 1905.1M1122.3 1905.1L1210.4 1905.1M1210.4 1905.1L1212.3 1899.6M1212.3 1899.6L1214.1 1906.2M1214.1 1906.2L1400 1907M1400 1907L1390 1907M1390 1907L1540 1907M1540 1893.5L1596.5 1893.5M1596.5 1878.3L1607.4 1878.3M1607.4 1878.3L1609.6 1873.9M1609.6 1873.9L1617.2 1873.9M1617.2 1869.6L1624.8 1869.6M1624.8 1863L1640 1865.2M1640 1880.4L1783.5 1880.4M1783.5 1869.6L1787.8 1858.7M1787.8 1858.7L1810 1858.7M1810 1858.7L1867.1 1858.7M1865.3 1813.1L1872.6 1805.8M1872.6 1805.8L1909.4 1805.8M1911.2 1805.8L1944.2 1804M1944.2 1833.3L1969.9 1835.2M1969.9 1835.2L1981 1837M1990.1 1844.4L2014 1844.4M2012.2 1829.7L2021.4 1829.7M2021.4 1829.7L2039.7 1827.8M2039.7 1827.8L2054.4 1838.9M2054.4 1838.9L2061.8 1835.2M2065.4 1848L2105.8 1848M2105.8 1838.9L2131.5 1838.9M2131.5 1838.9L2133.4 1829.7M2133.4 1829.7L2135.2 1837M2135.2 1837L2220 1837M2220 1837L2308.8 1837M2308.8 1831.2L2359.9 1831.2M2359.9 1841.4L2365 1841.4M2365 1838L2370.1 1838M2370.1 1855L2410.9 1856.7M2412.6 1855L2420.2 1855M2420.2 1851.6L2427.9 1851.6M2427.9 1851.6L2431.3 1841.4M2431.3 1841.4L2438.1 1848.2M2441.5 1836.3L2458.5 1834.6M2458.5 1844.8L2470.4 1844.8M2470.4 1848.2L2482.3 1848.2M2482.3 1848.2L2484 1856.7M2484 1856.7L2526.5 1856.7M2526.5 1844.8L2528.2 1855M2528.2 1855L2629.9 1855M2630 1855L2696.8 1855M2696.8 1868.9L2730.8 1868.9M2730.8 1875.7L2844.9 1875.7M2844.9 1868.9L2853.4 1880.8M2853.4 1892.7L2885.7 1892.7M2885.7 1892.7L2887.4 1887.6M2887.4 1887.6L2902.7 1887.6M2902.7 1887.6L2906.1 1892.7M2906.1 1892.7L2945.3 1892.7M2945.3 1879.1L2950.4 1879.1M2950.4 1879.1L2953.8 1882.5M2953.8 1882.5L3030 1882.5M3029.9 1882.5L3104.2 1882.5M3104.2 1894.9L3145.8 1894.9M3146.9 1894.9L3264.1 1894.9M3264.1 1882.8L3301.3 1882.8M3301.3 1892.7L3340.7 1892.7M3340.7 1874.1L3349.5 1874.1M3349.5 1860.9L3426.1 1860.9" fill="none" stroke="#d62728" stroke-width="12.5" stroke-linecap="round" stroke-linejoin="round"/>
<path d="M165 1937.5h0M355 1937.5h0M356 1936.2h0M367 1936.2h0M369 1931.3h0M575 1931.3h0M799.4 1931.3h0M798.1 1912.9h0M799.4 1905.1h0M799.4 1912.9h0M881.2 1912.9h0M883.8 1907.7h0M1000 1907.7h0M990 1907.7h0M1118.6 1907.7h0M1122.3 1905.1h0M1210.4 1905.1h0M1212.3 1899.6h0M1214.1 1906.2h0M1400 1907h0M1390 1907h0M1540 1907h0M1540 1869.6h0M1540 1893.5h0M1596.5 1893.5h0M1596.5 1878.3h0M1607.4 1878.3h0M1609.6 1873.9h0M1617.2 1873.9h0M1617.2 1869.6h0M1624.8 1869.6h0M1624.8 1863h0M1640 1865.2h0M1640 1843.5h0M1640 1880.4h0M1783.5 1880.4h0M1783.5 1869.6h0M1787.8 1858.7h0M1810 1858.7h0M1810 1858.7h0M1867.1 1858.7h0M1865.3 1813.1h0M1872.6 1805.8h0M1909.4 1805.8h0M1909.4 1789.3h0M1911.2 1805.8h0M1944.2 1804h0M1944.2 1833.3h0M1969.9 1835.2h0M1981 1837h0M1982.8 1849.9h0M1988.3 1831.5h0M1990.1 1844.4h0M2014 1844.4h0M2012.2 1829.7h0M2021.4 1829.7h0M2039.7 1827.8h0M2054.4 1838.9h0M2061.8 1835.2h0M2065.4 1848h0M2105.8 1848h0M2105.8 1838.9h0M2131.5 1838.9h0M2133.4 1829.7h0M2135.2 1837h0M2220 1837h0M2220 1837h0M2308.8 1837h0M2308.8 1831.2h0M2359.9 1831.2h0M2359.9 1841.4h0M2365 1841.4h0M2365 1838h0M2370.1 1838h0M2370.1 1855h0M2410.9 1856.7h0M2412.6 1844.8h0M2412.6 1855h0M2420.2 1855h0M2420.2 1851.6h0M2427.9 1851.6h0M2431.3 1841.4h0M2438.1 1848.2h0M2441.5 1836.3h0M2458.5 1834.6h0M2458.5 1844.8h0M2470.4 1844.8h0M2470.4 1848.2h0M2482.3 1848.2h0M2484 1856.7h0M2526.5 1856.7h0M2526.5 1844.8h0M2528.2 1855h0M2629.9 1855h0M2630 1855h0M2696.8 1855h0M2696.8 1868.9h0M2730.8 1868.9h0M2730.8 1875.7h0M2844.9 1875.7h0M2844.9 1868.9h0M2853.4 1880.8h0M2853.4 1892.7h0M2885.7 1892.7h0M2887.4 1887.6h0M2902.7 1887.6h0M2906.1 1892.7h0M2945.3 1892.7h0M2945.3 1879.1h0M2950.4 1879.1h0M2953.8 1882.5h0M3030 1882.5h0M3029.9 1882.5h0M3104.2 1882.5h0M3104.2 1894.9h0M3145.8 1894.9h0M3145.8 1904.7h0M3146.9 1894.9h0M3264.1 1894.9h0M3264.1 1882.8h0M3301.3 1882.8h0M3301.3 1892.7h0M3340.7 1892.7h0M3340.7 1874.1h0M3349.5 1874.1h0M3349.5 1860.9h0M3426.1 1860.9h0M1987 1835.7h0" fill="none" stroke="#d62728" stroke-width="12.5" stroke-linecap="round"/>
<path d="M165 1940.3 L1889.2 1940.3 L1889.2 1818 L2971.5 1818 L2971.5 1940.3 L3432 1940.3" fill="none" stroke="#9467bd" stroke-width="6.25" stroke-linejoin="round"/>
<path d="M165 1940.3L1889.2 1940.3M1889.2 1818L2971.5 1818M2971.5 1940.3L3432 1940.3" fill="none" stroke="#9467bd" stroke-width="12.5" stroke-linecap="round" stroke-linejoin="round"/>
<path d="M165 1940.3h0M1889.2 1940.3h0M1889.2 1818h0M2971.5 1818h0M2971.5 1940.3h0M3432 1940.3h0" fill="none" stroke="#9467bd" stroke-width="12.5" stroke-linecap="round"/>
<path d="M165 1940.3 L1740 1940.3 L1744 1938.5 L1796 1938.5 L1797 1937.2 L1814 1937.2 L1815 1936 L1845 1936 L1850 1940.3 L2150 1940.3 L2153 1937.2 L2208 1937.2 L2210 1940.3 L3432 1940.3" fill="none" stroke="#8c564b" stroke-width="6.25" stroke-linejoin="round"/>
<path d="M165 1940.3L1740 1940.3M1740 1940.3L1744 1938.5M1744 1938.5L1796 1938.5M1797 1937.2L1814 1937.2M1815 1936L1845 1936M1845 1936L1850 1940.3M1850 1940.3L2150 1940.3M2150 1940.3L2153 1937.2M2153 1937.2L2208 1937.2M2208 1937.2L2210 1940.3M2210 1940.3L3432 1940.3" fill="none" stroke="#8c564b" stroke-width="12.5" stroke-linecap="round" stroke-linejoin="round"/>
<path d="M165 1940.3h0M1740 1940.3h0M1744 1938.5h0M1796 1938.5h0M1797 1937.2h0M1814 1937.2h0M1815 1936h0M1845 1936h0M1850 1940.3h0M2150 1940.3h0M2153 1937.2h0M2208 1937.2h0M2210 1940.3h0M3432 1940.3h0" fill="none" stroke="#8c564b" stroke-width="12.5" stroke-linecap="round"/>
<path d="M165 1940.2 L1840 1940.2 L1842 1936.2 L3432 1936.2" fill="none" stroke="#e377c2" stroke-width="6.25" stroke-linejoin="round"/>
<path d="M165 1940.2L1840 1940.2M1840 1940.2L1842 1936.2M1842 1936.2L3432 1936.2" fill="none" stroke="#e377c2" stroke-width="12.5" stroke-linecap="round" stroke-linejoin="round"/>
<path d="M165 1940.2h0M1840 1940.2h0M1842 1936.2h0M3432 1936.2h0" fill="none" stroke="#e377c2" stroke-width="12.5" stroke-linecap="round"/>
<path d="M1697.1 90.6V1945.3" stroke="#000" stroke-width="6" stroke-dasharray="22.8 10.32" fill="none"/>
</g>
<rect x="171.5" y="92.4" width="3254.9" height="1847.8999999999999" fill="none" stroke="#000" stroke-width="3.33" stroke-linecap="square"/>
<path d="M171.5 1940.3v14.6M578.4 1940.3v14.6M985.2 1940.3v14.6M1392.1 1940.3v14.6M1799 1940.3v14.6M2205.8 1940.3v14.6M2612.7 1940.3v14.6M3019.5 1940.3v14.6M3426.4 1940.3v14.6M171.5 1940.3h-14.6M171.5 1489.6h-14.6M171.5 1038.9h-14.6M171.5 588.2h-14.6M171.5 137.5h-14.6" stroke="#000" stroke-width="3.33" fill="none"/>
<rect x="192.2" y="113.5" width="697.7" height="451.5" rx="9" ry="9" fill="#ffffff" fill-opacity="0.8" stroke="#cccccc" stroke-opacity="0.8" stroke-width="3.33"/>
<path d="M204.9 148H294.9" stroke="#1f77b4" stroke-width="6.25"/>
<circle cx="250.5" cy="148" r="6.2" fill="#1f77b4"/>
<path d="M204.9 210.8H294.9" stroke="#ff7f0e" stroke-width="6.25"/>
<circle cx="250.5" cy="210.8" r="6.2" fill="#ff7f0e"/>
<path d="M204.9 273.6H294.9" stroke="#2ca02c" stroke-width="6.25"/>
<circle cx="250.5" cy="273.6" r="6.2" fill="#2ca02c"/>
<path d="M204.9 336.4H294.9" stroke="#d62728" stroke-width="6.25"/>
<circle cx="250.5" cy="336.4" r="6.2" fill="#d62728"/>
<path d="M204.9 399.2H294.9" stroke="#9467bd" stroke-width="6.25"/>
<circle cx="250.5" cy="399.2" r="6.2" fill="#9467bd"/>
<path d="M204.9 462H294.9" stroke="#8c564b" stroke-width="6.25"/>
<circle cx="250.5" cy="462" r="6.2" fill="#8c564b"/>
<path d="M204.9 524.8H294.9" stroke="#e377c2" stroke-width="6.25"/>
<circle cx="250.5" cy="524.8" r="6.2" fill="#e377c2"/>
<g font-family="Liberation Sans, sans-serif" fill="#000" opacity="0.999">
<text x="1262.24" y="68.30" font-size="53.05" textLength="1072.31" lengthAdjust="spacingAndGlyphs">Power Supply Outages Reported by ERCOT</text>
<text x="116.82" y="1956.40" font-size="44.21" textLength="24.43" lengthAdjust="spacingAndGlyphs">0</text>
<text x="117.34" y="1505.70" font-size="44.21" textLength="23.06" lengthAdjust="spacingAndGlyphs">5</text>
<text x="90.36" y="1055.00" font-size="44.21" textLength="50.96" lengthAdjust="spacingAndGlyphs">10</text>
<text x="90.42" y="604.30" font-size="44.21" textLength="50.13" lengthAdjust="spacingAndGlyphs">15</text>
<text x="90.01" y="153.60" font-size="44.21" textLength="51.33" lengthAdjust="spacingAndGlyphs">20</text>
<text x="94.69" y="2004.00" font-size="44.21" textLength="151.19" lengthAdjust="spacingAndGlyphs">Feb. 11</text>
<text x="501.56" y="2004.00" font-size="44.21" textLength="150.92" lengthAdjust="spacingAndGlyphs">Feb. 12</text>
<text x="908.40" y="2004.00" font-size="44.21" textLength="151.49" lengthAdjust="spacingAndGlyphs">Feb. 13</text>
<text x="1315.26" y="2004.00" font-size="44.21" textLength="151.85" lengthAdjust="spacingAndGlyphs">Feb. 14</text>
<text x="1722.14" y="2004.00" font-size="44.21" textLength="151.09" lengthAdjust="spacingAndGlyphs">Feb. 15</text>
<text x="2128.97" y="2004.00" font-size="44.21" textLength="152.23" lengthAdjust="spacingAndGlyphs">Feb. 16</text>
<text x="2535.85" y="2004.00" font-size="44.21" textLength="151.56" lengthAdjust="spacingAndGlyphs">Feb. 17</text>
<text x="2942.70" y="2004.00" font-size="44.21" textLength="151.98" lengthAdjust="spacingAndGlyphs">Feb. 18</text>
<text x="3349.57" y="2004.00" font-size="44.21" textLength="152.07" lengthAdjust="spacingAndGlyphs">Feb. 19</text>
<text x="1564.64" y="2061.80" font-size="44.21" textLength="466.21" lengthAdjust="spacingAndGlyphs">Date in February 2021</text>
<text transform="translate(62.20 0) rotate(-90)" x="-1296.31" y="0" font-size="44.21" textLength="557.00" lengthAdjust="spacingAndGlyphs">Disrupted Production (GW)</text>
<text x="324.61" y="164.20" font-size="44.21" textLength="245.80" lengthAdjust="spacingAndGlyphs">Natural Gas</text>
<text x="325.49" y="227.00" font-size="44.21" textLength="102.66" lengthAdjust="spacingAndGlyphs">Wind</text>
<text x="324.40" y="289.80" font-size="44.21" textLength="90.64" lengthAdjust="spacingAndGlyphs">Coal</text>
<text x="324.98" y="352.60" font-size="44.21" textLength="106.27" lengthAdjust="spacingAndGlyphs">Solar</text>
<text x="324.56" y="415.40" font-size="44.21" textLength="160.89" lengthAdjust="spacingAndGlyphs">Nuclear</text>
<text x="324.65" y="478.20" font-size="44.21" textLength="547.48" lengthAdjust="spacingAndGlyphs">Energy Storage Resources</text>
<text x="324.59" y="541.00" font-size="44.21" textLength="123.53" lengthAdjust="spacingAndGlyphs">Hydro</text>
</g>
</svg>
</body></html>
